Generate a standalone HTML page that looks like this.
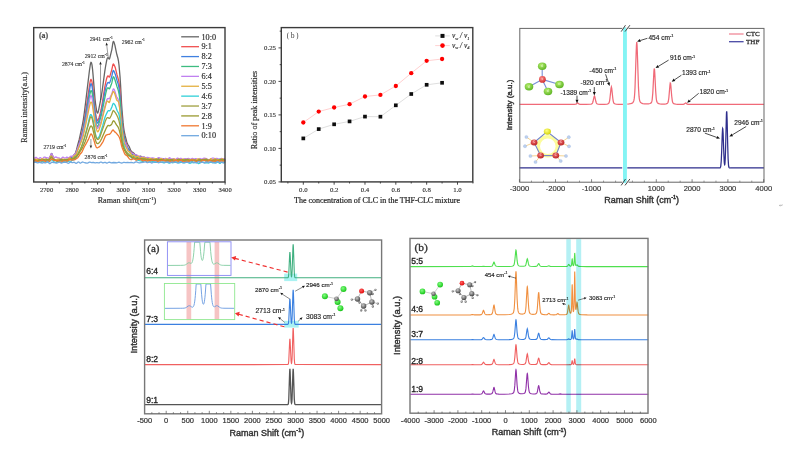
<!DOCTYPE html><html><head><meta charset="utf-8"><title>Raman spectra figure</title><style>html,body{margin:0;padding:0;background:#fff;overflow:hidden;}#wrap{position:relative;width:794px;height:453px;overflow:hidden;background:#fff;}#fig{position:absolute;left:0;top:0;display:block;transform-origin:0 0;}</style></head><body><div id="wrap">
<svg id="fig" width="2382" height="1359" viewBox="0 0 794 453" style="transform:scale(0.333333)">
<filter id="soft" x="0" y="0" width="1" height="1"><feGaussianBlur stdDeviation="0.3"/></filter>
<rect width="794" height="453" fill="#fff"/>
<g filter="url(#soft)">
<rect width="794" height="453" fill="#fff"/>
<path d="M33.85 160.05L34.87 160.82L35.38 161.09L35.89 161.11L37.93 159.96L38.95 159.80L40.48 159.89L42.01 160.29L42.52 160.28L44.05 159.96L45.58 160.19L46.09 160.19L47.11 159.99L47.62 160.01L48.64 160.25L49.15 159.96L49.66 158.98L50.68 155.34L51.19 153.84L51.70 153.44L52.21 154.29L53.23 157.81L53.74 159.22L54.25 159.97L54.76 160.18L55.78 160.04L57.31 160.03L58.84 159.65L59.35 159.73L60.88 160.45L61.39 160.44L62.92 159.92L64.45 160.02L65.98 159.55L66.49 159.50L67.51 159.75L68.02 159.75L68.53 159.54L70.06 158.41L71.59 158.11L72.10 157.70L73.63 155.23L75.16 153.65L75.67 152.66L76.18 151.07L77.71 144.96L79.24 139.47L82.30 125.36L83.32 119.81L84.34 112.58L85.87 100.38L89.44 70.50L90.46 63.73L90.97 62.29L91.48 62.78L91.99 64.87L92.50 68.80L93.01 74.37L95.05 99.40L95.56 103.78L96.58 110.55L97.09 112.62L97.60 113.16L98.11 112.19L98.62 110.17L101.17 97.31L102.19 90.64L104.74 71.62L105.76 65.26L106.78 59.88L107.29 58.29L107.80 57.62L108.31 57.73L108.82 58.62L109.33 59.03L109.84 57.89L111.88 49.29L112.90 42.66L113.41 41.34L113.92 41.92L114.94 45.39L116.47 52.87L116.98 55.03L118.00 58.55L118.51 61.23L119.02 65.23L120.04 76.93L120.55 84.58L121.57 103.71L122.08 110.81L123.10 122.65L123.61 127.26L124.12 130.87L125.14 135.75L126.67 141.49L127.18 143.05L127.69 144.24L129.22 146.62L130.75 150.39L131.26 151.39L131.77 151.96L133.30 152.58L134.83 154.20L136.36 155.20L137.89 156.72L138.40 156.97L138.91 156.87L139.93 156.18L140.44 156.09L140.95 156.35L141.97 157.27L142.48 157.48L144.01 157.11L144.52 157.27L145.54 158.02L146.05 158.23L146.56 158.20L147.58 157.91L148.09 158.01L149.11 158.65L149.62 158.85L150.13 158.83L151.15 158.56L151.66 158.67L152.68 159.32L153.19 159.49L153.70 159.37L154.72 158.69L155.23 158.59L155.74 158.78L156.76 159.40L157.27 159.41L158.29 158.85L158.80 158.73L159.31 158.96L160.33 159.94L160.84 160.15L161.35 159.96L162.37 158.94L162.88 158.65L163.39 158.72L164.92 159.82L165.94 160.03L167.47 159.99L167.98 159.83L169.00 159.28L169.51 159.17L170.02 159.34L171.04 160.24L171.55 160.56L172.06 160.57L173.08 159.97L173.59 159.79L174.10 159.84L175.12 160.16L175.63 160.05L176.65 159.26L177.16 159.05L177.67 159.19L178.69 160.21L179.20 160.54L179.71 160.49L180.73 159.65L181.24 159.35L181.75 159.37L183.28 160.22L183.79 160.28L184.81 160.19L186.34 160.46L186.85 160.40L188.38 159.79L188.89 159.80L189.91 160.00L190.42 159.94L191.95 159.28L192.46 159.33L193.99 160.03L194.50 160.04L195.52 159.87L196.03 159.91L197.05 160.22L197.56 160.25L199.09 159.86L199.60 160.01L200.62 160.76L201.13 160.95L201.64 160.79L203.17 159.32L203.68 159.17L205.21 159.68L205.72 159.68L206.74 159.49L207.25 159.56L208.78 160.26L209.29 160.22L210.82 159.56L211.33 159.60L212.86 160.45L213.88 160.78L214.39 160.78L214.90 160.65L215.41 160.38L216.94 159.17L217.45 159.03L217.96 159.18L218.98 159.94L219.49 160.16L220.00 160.10L221.02 159.48L221.53 159.30L222.04 159.38L223.06 159.98L223.57 160.17L224.08 160.16L225.10 159.86" fill="none" stroke="#666666" stroke-width="1.3" stroke-linejoin="round"/>
<path d="M33.85 160.31L35.38 159.24L35.89 159.15L36.40 159.27L37.93 160.10L38.44 160.28L39.46 160.45L40.48 160.32L42.01 159.77L42.52 159.79L44.05 160.56L44.56 160.63L45.07 160.48L46.09 159.82L46.60 159.59L47.11 159.55L48.13 159.68L48.64 159.52L49.15 158.99L49.66 158.04L50.68 155.64L51.19 154.93L51.70 154.93L52.21 155.62L53.23 157.79L54.25 159.49L54.76 160.07L55.27 160.46L55.78 160.60L56.29 160.47L57.31 159.78L57.82 159.55L58.33 159.53L59.86 160.03L60.37 159.96L61.39 159.59L61.90 159.56L62.41 159.74L63.43 160.31L63.94 160.40L64.45 160.26L65.47 159.68L65.98 159.51L66.49 159.53L67.51 159.75L68.02 159.65L68.53 159.33L70.06 157.84L70.57 157.50L71.08 157.32L72.61 157.25L73.12 157.14L73.63 156.86L74.14 156.41L74.65 155.69L75.16 154.67L76.69 150.63L78.22 146.98L78.73 145.37L80.77 136.94L82.30 131.28L82.81 128.97L83.83 123.19L86.38 106.95L89.44 85.75L89.95 82.65L90.46 80.33L90.97 79.39L91.48 80.04L91.99 81.86L92.50 85.00L93.01 89.35L95.05 109.67L95.56 113.37L96.58 118.76L97.09 120.28L97.60 120.68L98.11 120.04L99.13 117.27L100.15 113.59L101.17 109.27L102.19 103.56L104.74 87.27L105.76 82.19L106.78 78.00L107.29 76.65L107.80 76.00L108.31 76.00L108.82 76.74L109.33 77.17L109.84 76.36L111.88 69.37L112.90 64.65L113.41 63.95L113.92 64.56L114.94 66.79L115.45 68.28L116.98 74.72L118.51 79.91L119.02 82.56L119.53 86.32L120.04 91.22L120.55 97.54L121.57 113.84L122.08 119.77L123.10 129.12L124.12 135.63L124.63 137.96L125.65 141.47L127.18 146.07L128.20 148.57L128.71 149.35L130.24 150.73L131.77 152.93L132.28 153.52L132.79 153.87L133.81 154.23L134.32 154.56L135.85 156.46L136.36 156.87L136.87 156.95L138.40 156.31L138.91 156.36L140.44 157.29L140.95 157.48L142.99 157.59L144.52 157.93L145.03 158.13L146.56 159.10L147.07 159.33L147.58 159.35L148.09 159.15L149.11 158.55L149.62 158.45L150.13 158.58L151.15 159.21L151.66 159.42L152.17 159.43L153.70 158.88L154.72 158.78L156.25 158.88L156.76 159.01L158.29 159.74L158.80 159.85L159.31 159.78L160.33 159.46L160.84 159.49L161.35 159.75L162.37 160.54L162.88 160.71L163.39 160.57L164.92 159.39L165.43 159.30L166.96 159.70L167.47 159.65L168.49 159.34L169.00 159.33L169.51 159.50L170.53 160.10L171.04 160.27L171.55 160.25L173.08 159.81L173.59 159.80L175.12 160.07L176.14 160.12L177.16 160.00L178.69 159.62L179.20 159.65L179.71 159.88L180.73 160.74L181.24 161.05L181.75 161.07L182.26 160.75L183.28 159.70L183.79 159.45L184.30 159.56L185.32 160.44L185.83 160.74L186.34 160.71L187.87 159.44L188.38 159.24L188.89 159.30L189.91 159.74L190.42 159.86L192.46 159.76L195.01 159.95L197.05 160.92L197.56 160.96L199.60 160.18L201.13 160.01L202.66 159.58L203.17 159.57L204.70 159.95L206.74 159.75L208.27 160.30L208.78 160.39L209.29 160.32L210.82 159.82L212.35 159.87L213.88 159.68L214.39 159.80L215.92 160.69L216.43 160.70L216.94 160.42L217.96 159.63L218.47 159.52L218.98 159.72L220.00 160.57L220.51 160.79L221.02 160.70L222.55 159.49L223.06 159.34L223.57 159.42L225.10 160.14" fill="none" stroke="#f05050" stroke-width="1.3" stroke-linejoin="round"/>
<path d="M33.85 160.13L34.36 160.36L34.87 160.44L35.38 160.35L36.91 159.66L37.93 159.52L38.95 159.72L40.99 160.32L42.01 160.27L43.54 159.95L45.58 160.20L47.62 159.58L48.64 159.42L49.15 159.09L49.66 158.34L50.68 155.86L51.19 154.92L51.70 154.78L52.21 155.54L53.23 158.34L53.74 159.47L54.25 160.09L54.76 160.22L56.29 159.57L56.80 159.53L58.33 159.94L58.84 159.96L60.37 159.58L61.39 159.57L63.43 160.15L64.45 160.23L64.96 160.15L67.00 159.42L69.04 159.43L69.55 159.20L70.06 158.77L71.08 157.67L71.59 157.28L72.10 157.11L73.12 157.10L73.63 156.95L74.14 156.58L74.65 155.92L75.16 154.98L77.71 148.85L78.73 145.67L81.28 136.83L82.30 132.92L83.83 125.31L85.87 113.55L88.42 97.85L89.95 87.48L90.46 84.87L90.97 83.69L91.48 84.24L91.99 86.13L92.50 89.37L95.05 112.89L95.56 116.27L96.58 121.27L97.09 122.74L97.60 123.17L98.11 122.64L99.13 120.11L100.15 116.62L101.17 112.54L102.19 107.36L104.74 92.44L106.27 86.21L106.78 84.59L107.29 83.38L107.80 82.64L108.31 82.40L108.82 82.85L109.33 83.11L109.84 82.35L110.86 79.40L111.88 75.87L112.90 71.12L113.41 70.42L113.92 71.06L115.45 74.74L116.98 80.24L118.00 83.44L118.51 85.39L119.02 88.16L119.53 91.98L120.04 96.82L120.55 102.91L121.57 118.12L122.08 123.41L123.10 131.30L123.61 134.32L124.63 139.28L125.65 143.16L126.67 145.92L127.18 146.90L128.20 148.49L131.77 153.70L132.79 154.92L133.30 155.27L133.81 155.42L135.34 155.42L135.85 155.63L137.38 156.92L137.89 157.22L138.40 157.33L139.93 157.12L140.95 157.26L142.99 157.97L145.03 158.92L145.54 158.97L146.05 158.85L147.07 158.39L147.58 158.25L148.09 158.29L149.62 158.99L150.13 159.13L152.17 159.07L153.70 159.32L155.23 159.39L157.27 159.96L157.78 159.96L158.29 159.81L159.31 159.32L160.33 159.07L163.39 159.58L164.92 159.95L165.43 159.99L166.96 159.81L167.47 159.84L169.00 160.40L169.51 160.49L170.02 160.42L171.55 159.74L172.06 159.63L173.59 159.72L175.12 159.67L175.63 159.75L177.16 160.32L177.67 160.37L179.71 159.83L180.22 159.91L181.75 160.47L182.26 160.47L183.79 159.87L184.81 159.67L188.38 160.25L188.89 160.25L190.93 159.89L192.97 160.36L193.48 160.28L195.01 159.53L195.52 159.49L196.03 159.65L197.05 160.25L197.56 160.42L198.07 160.39L199.60 159.82L200.11 159.84L201.64 160.50L202.15 160.57L202.66 160.47L204.19 159.86L204.70 159.77L207.76 159.75L210.31 159.98L212.35 160.47L212.86 160.50L213.37 160.42L214.90 159.93L215.41 159.95L216.94 160.34L217.45 160.25L218.98 159.32L219.49 159.19L220.00 159.30L221.53 160.21L222.04 160.30L223.57 159.96L224.08 159.96L225.10 160.25" fill="none" stroke="#4080e0" stroke-width="1.3" stroke-linejoin="round"/>
<path d="M33.85 160.40L35.38 161.31L35.89 161.36L37.42 160.74L38.95 160.50L40.48 159.80L40.99 159.76L41.50 159.96L42.52 160.62L43.03 160.72L43.54 160.56L44.56 160.02L45.07 159.97L46.60 160.47L47.11 160.35L48.13 159.75L49.66 159.04L51.19 157.31L51.70 157.23L52.21 157.73L53.23 159.52L53.74 160.12L54.25 160.30L55.27 160.01L55.78 160.00L56.29 160.26L57.31 161.06L57.82 161.20L58.33 161.05L59.35 160.36L59.86 160.15L61.39 160.16L62.92 159.64L63.43 159.64L64.96 160.27L65.47 160.36L68.02 160.08L68.53 159.91L70.06 158.97L70.57 158.79L72.10 158.65L72.61 158.47L74.14 157.41L74.65 156.95L75.16 156.25L75.67 155.20L77.71 149.22L79.75 144.33L80.77 141.36L81.79 137.91L82.81 133.45L85.87 117.95L89.95 94.01L90.46 91.75L90.97 90.56L91.48 90.79L91.99 92.23L92.50 95.05L95.05 117.24L95.56 120.48L96.58 125.35L97.09 126.66L97.60 126.80L98.11 125.90L98.62 124.42L101.17 116.06L105.76 93.27L106.78 89.34L107.29 88.28L107.80 87.84L108.31 87.90L108.82 88.51L109.33 88.83L109.84 88.18L111.37 84.32L111.88 82.64L112.90 77.70L113.41 76.73L113.92 77.20L114.94 79.74L116.98 86.53L118.00 89.45L118.51 91.28L119.02 93.77L120.04 101.12L120.55 106.34L121.57 120.15L122.59 129.61L123.61 136.20L124.63 140.91L125.65 144.71L126.16 146.25L126.67 147.44L127.18 148.36L129.73 152.59L130.24 153.22L131.77 154.53L133.30 156.39L133.81 156.74L134.32 156.82L135.34 156.65L135.85 156.69L137.38 157.10L138.40 157.05L138.91 157.16L139.42 157.52L140.44 158.56L140.95 158.83L141.46 158.74L142.48 158.02L142.99 157.85L143.50 157.98L144.52 158.74L145.03 159.01L146.56 159.11L147.07 159.28L148.09 159.83L148.60 159.97L149.11 159.93L150.13 159.66L151.66 159.72L153.19 159.47L153.70 159.48L154.21 159.67L155.23 160.27L155.74 160.42L156.25 160.37L157.78 159.79L160.33 159.68L160.84 159.76L162.37 160.61L162.88 160.76L163.39 160.74L164.92 160.26L166.96 160.14L167.98 160.27L169.51 160.86L170.02 160.84L171.04 160.48L171.55 160.40L173.08 160.80L173.59 160.73L175.12 159.81L175.63 159.83L177.16 160.85L177.67 160.94L179.20 160.45L180.73 160.33L182.26 159.80L182.77 159.89L184.30 160.97L184.81 161.06L186.34 160.51L186.85 160.53L187.87 160.85L188.38 160.86L189.91 160.37L190.42 160.48L191.44 161.09L191.95 161.26L192.46 161.20L193.48 160.73L193.99 160.62L195.52 160.78L196.03 160.61L197.05 159.98L197.56 159.80L198.07 159.83L199.60 160.44L200.11 160.52L202.15 160.36L203.68 159.84L204.19 159.80L204.70 159.97L206.23 160.98L206.74 161.08L208.27 160.84L209.80 160.97L211.84 160.56L213.37 160.68L214.90 160.48L216.43 160.75L216.94 160.70L218.47 159.82L218.98 159.72L219.49 159.85L220.51 160.34L221.02 160.44L222.04 160.37L222.55 160.45L223.57 160.95L224.08 161.10L224.59 160.98L225.10 160.64" fill="none" stroke="#3cbc80" stroke-width="1.3" stroke-linejoin="round"/>
<path d="M33.85 158.20L34.36 158.12L35.89 157.43L36.40 157.49L37.93 158.67L38.44 158.77L38.95 158.53L39.97 157.77L40.48 157.72L42.01 158.72L42.52 158.66L44.05 157.19L44.56 157.04L45.07 157.19L46.09 157.73L47.62 157.79L48.64 158.09L49.15 158.01L49.66 157.43L50.68 154.96L51.19 153.96L51.70 153.78L52.21 154.52L53.23 156.97L53.74 157.65L54.25 157.72L55.27 157.08L55.78 156.98L56.29 157.14L57.31 157.69L58.84 157.91L60.37 158.89L60.88 158.91L61.39 158.55L62.41 157.38L62.92 157.13L63.43 157.29L64.45 158.11L64.96 158.21L65.47 157.97L66.49 157.22L67.00 157.19L68.02 157.77L68.53 157.90L69.04 157.69L70.06 156.65L70.57 156.27L71.08 156.18L72.10 156.38L72.61 156.25L73.12 155.82L74.14 154.65L75.67 153.49L76.18 152.71L76.69 151.53L78.73 145.46L80.77 140.75L81.79 137.66L83.83 129.68L85.87 120.83L89.44 100.90L89.95 98.37L90.46 96.44L90.97 95.63L91.48 96.19L91.99 97.82L92.50 100.60L93.01 104.35L95.05 120.35L95.56 123.09L96.58 127.10L97.09 128.18L97.60 128.35L98.11 127.73L100.15 123.65L101.17 121.13L104.23 108.78L105.76 103.11L106.78 99.87L107.29 98.95L107.80 98.53L108.31 98.45L108.82 98.73L109.33 98.69L109.84 97.87L111.88 93.81L112.90 89.86L113.41 88.85L113.92 89.04L114.43 90.06L114.94 91.45L116.47 96.46L116.98 97.49L118.00 98.99L118.51 100.53L119.02 103.03L120.04 110.23L120.55 114.63L121.57 125.29L122.08 129.25L123.10 136.10L123.61 138.70L124.12 140.55L124.63 141.73L125.65 143.52L126.16 144.84L127.69 149.72L128.20 150.75L128.71 151.28L130.24 152.05L131.26 152.88L131.77 153.17L133.30 153.69L134.83 154.75L135.34 154.90L136.36 154.85L136.87 154.95L137.38 155.27L138.91 156.79L139.42 157.03L139.93 157.08L143.50 156.93L144.01 157.02L145.54 157.65L146.05 157.72L147.58 157.41L148.09 157.46L149.62 158.22L150.13 158.31L152.17 157.83L152.68 157.83L153.70 158.13L155.23 158.93L155.74 159.08L156.25 159.04L156.76 158.80L157.78 158.02L158.29 157.77L158.80 157.73L160.33 158.22L161.86 158.43L163.39 159.13L163.90 159.12L165.43 158.39L165.94 158.47L166.96 159.17L167.47 159.33L167.98 159.12L169.00 158.03L169.51 157.74L170.02 157.86L171.04 158.89L171.55 159.22L172.06 159.19L173.08 158.63L173.59 158.62L175.12 159.62L175.63 159.55L177.16 158.22L177.67 158.16L178.69 158.69L179.20 158.81L180.73 158.27L181.24 158.41L182.26 159.34L182.77 159.66L183.28 159.64L184.81 158.59L185.32 158.57L186.34 158.92L186.85 158.94L188.38 158.45L188.89 158.57L189.91 159.13L190.42 159.20L190.93 159.02L191.95 158.45L192.46 158.43L193.99 159.03L194.50 158.96L195.52 158.53L196.03 158.53L197.56 159.50L198.07 159.53L199.60 158.57L200.11 158.50L201.64 159.12L202.15 159.08L203.68 158.23L204.19 158.15L206.74 158.73L208.78 159.72L209.29 159.79L209.80 159.68L210.31 159.41L211.84 158.39L212.35 158.20L212.86 158.14L213.37 158.21L214.90 158.67L216.94 158.46L217.45 158.66L218.47 159.42L218.98 159.65L219.49 159.59L221.02 158.54L221.53 158.46L223.06 159.01L223.57 158.96L224.59 158.62L225.10 158.59" fill="none" stroke="#c080f0" stroke-width="1.3" stroke-linejoin="round"/>
<path d="M33.85 159.03L34.36 159.11L35.38 159.59L35.89 159.70L36.40 159.61L37.42 159.23L37.93 159.27L39.46 160.25L39.97 160.30L40.48 160.03L41.50 159.02L42.01 158.71L42.52 158.72L44.05 159.72L44.56 159.83L46.09 159.40L46.60 159.42L47.62 159.84L48.13 159.95L48.64 159.77L49.15 159.18L50.68 156.23L51.19 155.82L51.70 156.07L53.23 158.70L53.74 159.24L54.25 159.50L54.76 159.59L56.29 159.58L57.82 159.07L58.33 159.02L58.84 159.15L59.86 159.68L60.37 159.81L60.88 159.74L62.41 159.03L62.92 159.02L64.45 159.42L65.98 159.43L67.00 159.56L67.51 159.48L68.02 159.18L69.04 158.18L69.55 157.86L70.06 157.88L71.08 158.63L71.59 158.88L72.10 158.72L72.61 158.12L73.63 156.41L74.14 155.85L75.16 155.44L75.67 155.13L76.18 154.43L76.69 153.35L78.22 149.26L81.28 141.86L82.30 139.06L83.32 135.57L83.83 133.48L85.87 124.14L88.93 108.83L89.95 104.42L90.46 102.79L90.97 102.02L91.48 102.35L91.99 103.57L92.50 105.83L94.54 119.87L95.05 123.17L95.56 125.60L96.58 129.63L97.09 131.09L97.60 131.75L98.11 131.54L98.62 130.70L99.13 129.55L101.17 123.47L103.72 112.88L106.27 103.16L106.78 101.72L107.29 101.04L107.80 101.12L108.31 101.68L108.82 102.46L109.33 102.56L109.84 101.38L110.86 97.62L111.37 96.08L112.90 91.98L113.41 91.56L113.92 92.04L114.94 94.28L116.47 99.48L116.98 100.51L118.00 101.10L118.51 101.97L119.02 104.06L119.53 107.46L120.04 111.77L121.57 127.68L122.59 134.37L123.61 140.27L124.12 142.74L124.63 144.60L125.14 145.84L126.16 147.54L127.69 150.55L128.20 151.22L128.71 151.50L129.22 151.60L129.73 151.84L130.24 152.50L131.77 155.68L132.28 156.06L132.79 155.89L133.30 155.48L133.81 155.24L134.32 155.40L135.34 156.57L135.85 156.94L136.36 156.89L137.38 156.18L137.89 156.16L138.40 156.61L139.42 158.08L139.93 158.46L140.44 158.40L141.46 157.65L141.97 157.48L142.48 157.60L143.50 158.12L144.01 158.18L145.03 157.93L145.54 157.95L146.05 158.18L147.07 158.90L147.58 159.06L148.09 158.98L149.11 158.52L149.62 158.42L150.13 158.48L151.66 158.92L153.70 159.11L154.72 158.97L155.74 158.63L156.25 158.61L156.76 158.80L157.78 159.51L158.29 159.74L158.80 159.73L159.31 159.48L160.33 158.74L160.84 158.56L161.35 158.61L162.88 159.57L163.39 159.81L163.90 159.89L164.41 159.79L165.94 158.97L166.45 158.82L166.96 158.85L168.49 159.60L169.00 159.76L169.51 159.78L170.53 159.65L172.06 159.60L174.10 158.94L174.61 159.02L176.14 160.00L176.65 160.09L177.16 159.94L178.18 159.34L178.69 159.21L179.20 159.28L180.22 159.70L180.73 159.77L182.77 159.15L183.28 159.20L184.81 159.74L185.32 159.82L186.34 159.75L188.38 159.41L190.93 159.56L192.97 159.27L193.48 159.38L195.01 160.04L195.52 160.10L196.03 160.00L198.07 158.88L198.58 158.82L199.09 158.96L200.62 159.95L201.13 160.13L201.64 160.11L203.17 159.49L204.70 159.35L206.23 159.09L206.74 159.17L208.27 160.20L208.78 160.27L209.29 159.98L210.31 158.92L210.82 158.69L211.33 158.89L212.35 160.02L212.86 160.33L213.37 160.20L214.39 159.11L214.90 158.75L215.41 158.79L216.43 159.62L216.94 159.91L217.45 159.93L218.47 159.56L218.98 159.53L220.00 159.80L220.51 159.75L222.04 158.71L222.55 158.75L224.08 160.22L224.59 160.28L225.10 159.96" fill="none" stroke="#e4b040" stroke-width="1.3" stroke-linejoin="round"/>
<path d="M33.85 162.15L34.36 162.35L34.87 162.40L35.38 162.30L36.91 161.60L37.42 161.50L37.93 161.57L39.46 162.49L39.97 162.69L40.48 162.65L42.01 161.62L42.52 161.45L43.03 161.52L44.05 162.02L44.56 162.16L46.60 161.89L48.13 162.21L48.64 162.12L49.15 161.83L50.68 160.24L51.19 159.86L51.70 159.74L52.21 159.89L52.72 160.28L54.25 162.01L54.76 162.47L55.27 162.68L55.78 162.61L57.31 161.59L57.82 161.43L58.33 161.45L60.88 162.12L61.90 162.18L63.94 161.76L65.47 162.02L65.98 161.92L67.51 161.02L68.02 161.04L69.55 162.06L70.06 162.06L70.57 161.71L71.59 160.62L72.10 160.26L73.63 159.79L74.14 159.46L76.18 157.43L77.20 156.03L79.24 151.36L80.77 148.87L81.79 146.48L84.85 136.62L87.91 124.63L89.44 117.71L89.95 115.85L90.46 114.70L90.97 114.52L91.48 115.19L91.99 116.24L92.50 117.70L93.52 122.13L94.03 124.96L95.05 131.91L95.56 134.53L96.07 136.48L96.58 137.75L97.09 138.39L97.60 138.45L98.11 138.10L98.62 137.50L99.13 136.69L99.64 135.49L102.70 125.70L104.74 117.93L105.76 115.27L107.29 112.10L107.80 111.19L108.31 110.61L108.82 110.67L109.33 110.90L109.84 110.67L110.35 110.11L110.86 109.29L111.88 107.05L112.90 103.84L113.41 103.34L113.92 103.68L114.94 104.99L115.45 105.93L116.98 110.25L117.49 111.33L118.51 113.02L119.02 114.51L119.53 116.93L120.04 120.32L121.57 135.04L122.08 138.28L123.10 142.72L125.14 149.66L126.16 151.91L128.20 155.03L128.71 155.57L129.22 155.91L130.24 156.36L130.75 156.75L132.28 158.51L132.79 158.81L133.30 158.87L134.32 158.80L134.83 158.94L136.36 159.79L137.89 160.11L139.42 160.69L141.46 161.02L142.48 161.40L142.99 161.45L143.50 161.29L144.52 160.66L145.03 160.55L145.54 160.77L147.07 162.31L147.58 162.48L148.09 162.39L149.11 161.97L149.62 161.90L151.15 161.93L152.68 161.58L153.19 161.68L154.72 162.35L155.23 162.42L156.76 162.36L158.29 162.43L160.33 162.00L161.35 162.13L163.90 162.82L164.41 162.79L164.92 162.62L165.94 162.03L166.45 161.87L166.96 161.94L168.49 162.99L169.00 163.12L169.51 163.00L170.53 162.46L171.04 162.32L173.08 162.74L174.61 162.40L175.63 162.36L178.69 162.97L179.20 162.94L180.73 162.33L181.24 162.22L181.75 162.27L183.28 162.90L183.79 162.97L184.30 162.92L186.34 162.32L187.36 162.21L187.87 162.30L189.40 163.14L189.91 163.27L190.42 163.17L191.95 162.31L192.46 162.32L193.48 162.77L193.99 162.87L194.50 162.71L195.52 162.00L196.03 161.84L196.54 162.00L198.07 163.35L198.58 163.51L199.09 163.42L201.13 162.33L202.15 162.03L202.66 162.04L203.17 162.18L204.70 162.88L205.21 162.90L206.74 162.59L208.27 162.98L208.78 162.93L210.31 162.23L210.82 162.22L212.35 162.74L213.88 162.52L214.39 162.56L215.41 162.87L215.92 162.86L217.45 162.06L217.96 162.08L219.49 163.25L220.00 163.35L220.51 163.10L221.53 162.29L222.04 162.13L222.55 162.22L223.57 162.59L224.08 162.61L225.10 162.44" fill="none" stroke="#30d0d8" stroke-width="1.3" stroke-linejoin="round"/>
<path d="M33.85 161.49L35.89 160.86L37.42 160.76L37.93 160.59L39.46 159.80L40.48 159.64L42.01 159.95L44.56 160.69L46.09 160.81L47.62 161.12L48.13 161.12L48.64 160.88L49.15 160.30L50.68 157.44L51.19 156.99L51.70 157.15L53.23 159.30L53.74 159.65L55.27 159.92L56.80 160.85L57.31 161.03L57.82 161.03L59.35 160.61L61.39 160.61L62.92 160.46L65.47 159.95L65.98 159.94L67.51 160.28L68.02 160.27L68.53 160.11L70.06 159.33L70.57 159.25L72.10 159.38L72.61 159.22L74.14 158.12L75.67 157.32L76.18 156.81L76.69 156.08L80.26 149.46L81.79 145.86L84.34 138.54L87.91 126.16L89.44 120.24L89.95 118.47L90.46 117.18L90.97 116.71L91.48 117.13L91.99 118.17L92.50 119.88L93.52 124.97L95.05 133.76L95.56 135.79L96.07 137.33L96.58 138.44L97.09 139.16L97.60 139.43L98.11 139.34L98.62 138.99L99.13 138.44L99.64 137.52L100.15 136.25L101.68 131.67L103.72 126.11L105.25 121.28L106.27 118.89L106.78 118.13L107.29 117.70L107.80 117.58L108.31 117.70L108.82 118.14L109.33 118.42L109.84 118.07L110.35 117.32L111.37 115.19L112.90 110.92L113.41 110.52L113.92 110.96L115.45 112.95L116.47 114.57L118.00 117.78L119.02 120.90L120.04 125.61L120.55 128.85L121.57 137.36L122.08 140.54L123.10 145.30L123.61 146.90L124.12 148.11L125.65 150.68L127.18 152.70L130.75 156.17L134.32 158.45L134.83 158.60L136.36 158.70L137.89 158.95L139.93 158.98L141.46 159.29L141.97 159.31L143.50 159.01L144.01 159.03L145.54 159.56L146.05 159.61L147.58 159.20L148.09 159.23L148.60 159.45L150.13 160.43L150.64 160.51L152.17 160.24L152.68 160.27L154.21 160.65L154.72 160.65L157.27 159.86L158.29 159.75L159.31 159.91L160.84 160.38L161.35 160.40L162.88 160.19L163.39 160.28L164.92 160.89L165.43 160.85L165.94 160.61L166.96 159.93L167.47 159.75L167.98 159.78L169.51 160.35L171.55 160.23L172.06 160.38L173.59 161.13L174.10 161.23L175.12 161.16L176.65 160.89L179.20 160.06L181.75 159.98L182.77 160.06L184.30 160.75L185.32 160.98L188.38 160.84L190.42 160.07L190.93 160.04L192.46 160.33L193.99 160.17L194.50 160.21L195.01 160.40L196.03 161.03L196.54 161.24L197.05 161.26L198.58 160.69L199.09 160.60L200.62 160.74L201.13 160.69L202.66 160.20L203.68 160.05L204.70 160.14L207.25 160.61L207.76 160.57L209.29 160.17L209.80 160.19L211.33 160.76L211.84 160.82L213.37 160.30L213.88 160.25L214.39 160.42L215.41 161.08L215.92 161.31L216.43 161.33L217.96 160.63L218.47 160.50L220.00 160.59L220.51 160.52L222.55 159.83L223.57 159.84L225.10 160.16" fill="none" stroke="#a0a040" stroke-width="1.3" stroke-linejoin="round"/>
<path d="M33.85 160.01L34.87 159.98L36.40 160.54L36.91 160.64L37.42 160.59L38.95 160.14L39.46 160.17L40.99 160.70L41.50 160.76L42.01 160.67L42.52 160.46L44.05 159.51L45.07 159.09L45.58 159.03L46.09 159.10L47.62 159.69L48.13 159.80L48.64 159.77L49.15 159.56L49.66 159.16L50.68 158.13L51.19 157.81L51.70 157.80L52.21 158.10L53.23 159.12L54.25 159.90L55.27 160.29L57.31 160.82L57.82 160.87L58.33 160.79L58.84 160.56L60.37 159.51L60.88 159.39L61.39 159.47L62.92 160.12L63.43 160.13L65.47 159.59L68.02 159.45L70.06 159.61L70.57 159.50L72.10 158.68L72.61 158.52L74.14 158.45L74.65 158.23L75.16 157.80L76.69 155.94L78.22 154.51L78.73 153.84L80.26 151.15L81.79 148.89L82.81 147.08L85.36 141.27L86.38 138.28L88.42 131.41L89.44 128.56L90.46 126.38L90.97 125.89L91.48 126.03L91.99 126.68L92.50 127.94L93.01 129.81L95.05 138.90L95.56 140.55L96.07 141.85L96.58 142.85L97.09 143.50L97.60 143.70L98.11 143.52L99.13 142.66L99.64 142.08L100.66 140.57L101.68 138.55L104.74 131.43L106.27 128.10L107.29 126.24L107.80 125.67L108.31 125.40L109.33 125.77L109.84 125.68L110.86 125.08L111.37 124.58L111.88 123.83L112.90 121.35L113.41 120.78L113.92 120.93L114.94 122.22L116.47 124.89L118.00 126.98L118.51 127.96L119.02 129.36L120.04 133.26L120.55 135.74L121.57 141.81L122.08 143.96L123.10 147.39L124.12 149.75L126.67 153.97L127.18 154.75L127.69 155.30L128.20 155.58L129.73 155.76L130.24 156.07L131.77 157.50L132.28 157.77L133.81 157.91L135.34 158.19L137.38 158.25L138.91 158.77L139.42 158.86L140.95 158.58L141.46 158.57L143.50 159.23L145.03 159.11L145.54 159.16L147.58 160.19L148.09 160.28L148.60 160.22L150.13 159.71L151.15 159.49L152.17 159.50L154.21 159.83L154.72 159.79L156.25 159.36L157.27 159.27L159.82 159.76L162.37 159.62L162.88 159.66L164.41 160.18L165.43 160.34L166.96 160.08L169.00 160.29L169.51 160.20L171.04 159.53L171.55 159.46L172.06 159.55L174.10 160.32L175.63 160.48L176.65 160.31L178.18 159.43L178.69 159.31L179.20 159.42L180.73 160.40L181.24 160.51L181.75 160.41L182.77 159.96L183.28 159.84L184.81 159.91L186.85 159.29L187.36 159.34L189.40 160.21L191.95 160.51L192.46 160.50L193.99 160.08L194.50 160.06L195.01 160.20L196.03 160.71L196.54 160.82L197.05 160.74L198.58 159.80L199.09 159.61L199.60 159.58L201.13 159.83L201.64 159.82L205.21 159.38L206.23 159.48L208.27 160.06L211.84 160.71L212.86 160.60L214.39 160.14L215.41 159.98L217.96 160.37L218.47 160.26L220.00 159.48L220.51 159.35L221.02 159.38L222.55 159.90L223.06 159.94L225.10 159.65" fill="none" stroke="#9a9a30" stroke-width="1.3" stroke-linejoin="round"/>
<path d="M33.85 161.02L34.87 161.03L36.40 160.64L36.91 160.70L38.44 161.71L38.95 161.83L39.46 161.66L40.99 160.55L41.50 160.44L44.05 160.74L45.58 161.44L46.09 161.49L47.62 161.10L49.15 161.35L49.66 161.15L51.19 159.33L51.70 159.08L52.21 159.23L53.23 160.03L53.74 160.28L56.29 160.59L57.82 160.45L58.33 160.54L58.84 160.87L59.86 161.91L60.37 162.25L60.88 162.26L61.39 161.99L62.41 161.20L62.92 160.97L64.96 160.85L67.00 161.18L67.51 161.04L69.04 159.71L69.55 159.50L70.06 159.55L71.08 160.02L71.59 160.12L73.12 159.79L74.65 159.76L75.16 159.58L77.71 157.68L78.22 157.15L80.26 153.98L81.79 152.28L82.30 151.35L84.34 146.75L85.87 144.20L88.42 139.39L90.46 134.44L90.97 133.92L91.48 134.15L91.99 134.92L92.50 136.12L94.03 140.62L95.05 144.16L96.07 146.77L96.58 147.55L97.09 147.89L97.60 147.81L99.64 146.60L100.66 145.43L103.21 141.32L104.74 137.48L105.25 136.37L105.76 135.57L106.27 135.09L106.78 134.81L108.31 134.32L109.33 134.37L109.84 134.06L110.86 132.82L112.39 130.40L112.90 129.93L113.41 130.16L114.43 131.63L115.96 132.84L116.47 133.39L118.51 135.94L119.02 136.73L119.53 137.80L120.04 139.23L120.55 141.11L121.57 145.84L122.08 147.40L124.63 153.70L125.14 154.51L125.65 155.00L126.67 155.51L127.18 155.92L129.22 158.67L129.73 159.08L130.75 159.50L131.26 159.57L131.77 159.51L132.28 159.29L133.30 158.64L133.81 158.52L134.32 158.70L135.85 160.06L136.36 160.16L136.87 159.99L137.89 159.41L138.40 159.28L138.91 159.28L140.44 159.54L140.95 159.72L142.48 160.72L142.99 160.89L143.50 160.83L144.52 160.42L145.03 160.38L146.56 161.00L147.07 161.06L148.60 160.67L150.13 160.78L150.64 160.68L151.66 160.29L152.17 160.21L153.70 160.60L155.23 160.56L155.74 160.66L157.27 161.45L157.78 161.48L159.31 160.86L160.84 160.79L161.35 160.67L162.37 160.22L162.88 160.13L163.39 160.24L164.92 160.96L166.45 161.06L167.98 161.41L168.49 161.35L169.51 161.03L170.02 161.04L171.55 161.84L172.06 161.88L172.57 161.64L174.10 160.41L174.61 160.24L175.63 160.21L176.65 160.39L178.18 161.28L178.69 161.41L179.20 161.25L180.22 160.41L180.73 160.12L181.24 160.14L181.75 160.48L182.77 161.45L183.28 161.76L184.30 161.91L185.83 161.73L187.36 161.02L187.87 160.94L189.40 161.33L189.91 161.22L191.44 159.99L191.95 159.83L192.46 159.96L193.99 160.78L196.54 161.21L198.07 161.13L198.58 161.21L200.11 162.06L200.62 162.06L201.13 161.75L202.15 160.70L202.66 160.34L203.17 160.26L205.21 160.96L206.74 161.37L207.25 161.41L207.76 161.28L209.29 160.36L209.80 160.35L211.33 161.24L211.84 161.35L213.37 161.06L214.90 161.09L216.43 160.63L216.94 160.64L218.47 161.27L218.98 161.30L220.51 160.95L222.04 161.10L223.57 160.77L224.08 160.84L225.10 161.45" fill="none" stroke="#f07830" stroke-width="1.3" stroke-linejoin="round"/>
<path d="M33.85 162.36L35.38 162.27L35.89 162.32L37.42 162.91L37.93 162.92L39.46 162.15L39.97 162.10L40.48 162.31L41.50 162.98L42.01 163.09L43.54 162.57L44.05 162.60L45.07 162.95L45.58 162.91L46.09 162.59L47.11 161.67L47.62 161.58L48.13 161.93L49.15 163.26L49.66 163.64L50.17 163.57L51.70 162.17L52.21 162.05L53.74 162.59L55.27 162.57L56.80 163.01L57.31 162.97L58.84 162.09L59.35 162.03L59.86 162.24L60.88 162.92L61.39 163.07L61.90 163.00L63.43 162.46L65.98 162.29L66.49 162.40L68.02 163.29L68.53 163.30L69.04 163.01L70.06 162.16L70.57 161.99L71.08 162.10L72.10 162.64L72.61 162.70L73.63 162.34L74.14 162.26L74.65 162.42L75.67 163.19L76.18 163.36L76.69 163.21L77.71 162.29L78.22 162.01L78.73 162.07L79.75 162.83L80.26 163.08L80.77 163.04L82.30 162.07L82.81 162.00L84.85 162.75L86.89 163.09L87.40 163.08L87.91 162.93L89.44 162.17L89.95 162.15L91.48 162.54L93.01 162.42L93.52 162.48L95.05 162.94L95.56 162.90L96.58 162.59L97.09 162.54L98.62 162.90L99.13 162.84L100.66 162.03L101.17 162.03L102.70 162.89L103.21 162.96L104.74 162.39L105.25 162.40L106.78 163.06L107.29 163.03L108.82 162.24L109.33 162.16L111.37 162.78L113.41 162.51L116.47 162.77L117.49 162.63L119.02 162.24L119.53 162.29L121.06 162.98L121.57 163.07L122.08 162.99L123.61 162.32L124.12 162.29L125.65 162.61L127.69 162.48L129.22 162.71L131.26 162.46L133.30 162.93L133.81 162.88L134.32 162.68L135.34 162.11L135.85 161.92L136.36 161.88L136.87 162.00L138.40 162.70L139.42 162.83L140.95 162.54L142.99 162.44L145.03 161.90L145.54 161.97L147.07 162.60L147.58 162.61L149.11 162.02L149.62 161.99L150.13 162.17L151.15 162.80L151.66 162.98L152.17 162.94L152.68 162.71L153.70 162.03L154.21 161.79L154.72 161.68L155.74 161.83L157.27 162.46L158.29 162.74L158.80 162.73L160.33 162.31L161.35 162.17L163.39 162.21L165.43 162.48L165.94 162.41L167.47 161.88L167.98 161.91L169.51 162.76L170.02 162.86L170.53 162.73L171.55 162.15L172.06 162.00L172.57 162.04L173.59 162.35L174.10 162.35L175.63 161.95L176.14 162.08L177.16 162.75L177.67 162.97L178.18 162.90L179.71 161.76L180.22 161.61L180.73 161.72L182.26 162.53L182.77 162.64L184.30 162.53L186.34 162.03L186.85 162.03L188.38 162.58L188.89 162.63L189.40 162.49L190.42 161.95L190.93 161.85L191.44 161.94L192.46 162.38L192.97 162.47L194.50 162.21L195.01 162.35L196.03 162.91L196.54 162.99L197.05 162.76L198.07 161.83L198.58 161.54L199.09 161.56L200.62 162.45L201.13 162.45L202.15 162.15L202.66 162.17L204.19 162.91L204.70 162.87L206.23 161.87L206.74 161.84L208.27 162.62L208.78 162.62L210.31 161.85L210.82 161.80L214.39 162.78L214.90 162.88L215.41 162.85L215.92 162.61L216.94 161.87L217.45 161.68L217.96 161.76L218.98 162.34L219.49 162.49L220.00 162.41L221.02 162.00L221.53 162.03L223.06 162.93L223.57 162.89L225.10 161.72" fill="none" stroke="#70a8e0" stroke-width="1.3" stroke-linejoin="round"/>
<rect x="33.7" y="27.6" width="191.3" height="154.4" fill="none" stroke="#3a3a3a" stroke-width="1.4"/>
<line x1="46.60" y1="182.0" x2="46.60" y2="184.6" stroke="#333" stroke-width="0.9"/>
<text x="46.60" y="192.3" font-size="6.6" font-family="'Liberation Serif','Noto Serif CJK SC',serif" text-anchor="middle" fill="#333" stroke="#333" stroke-width="0.15" >2700</text>
<line x1="59.35" y1="182.0" x2="59.35" y2="183.5" stroke="#333" stroke-width="0.9"/>
<line x1="72.10" y1="182.0" x2="72.10" y2="184.6" stroke="#333" stroke-width="0.9"/>
<text x="72.10" y="192.3" font-size="6.6" font-family="'Liberation Serif','Noto Serif CJK SC',serif" text-anchor="middle" fill="#333" stroke="#333" stroke-width="0.15" >2800</text>
<line x1="84.85" y1="182.0" x2="84.85" y2="183.5" stroke="#333" stroke-width="0.9"/>
<line x1="97.60" y1="182.0" x2="97.60" y2="184.6" stroke="#333" stroke-width="0.9"/>
<text x="97.60" y="192.3" font-size="6.6" font-family="'Liberation Serif','Noto Serif CJK SC',serif" text-anchor="middle" fill="#333" stroke="#333" stroke-width="0.15" >2900</text>
<line x1="110.35" y1="182.0" x2="110.35" y2="183.5" stroke="#333" stroke-width="0.9"/>
<line x1="123.10" y1="182.0" x2="123.10" y2="184.6" stroke="#333" stroke-width="0.9"/>
<text x="123.10" y="192.3" font-size="6.6" font-family="'Liberation Serif','Noto Serif CJK SC',serif" text-anchor="middle" fill="#333" stroke="#333" stroke-width="0.15" >3000</text>
<line x1="135.85" y1="182.0" x2="135.85" y2="183.5" stroke="#333" stroke-width="0.9"/>
<line x1="148.60" y1="182.0" x2="148.60" y2="184.6" stroke="#333" stroke-width="0.9"/>
<text x="148.60" y="192.3" font-size="6.6" font-family="'Liberation Serif','Noto Serif CJK SC',serif" text-anchor="middle" fill="#333" stroke="#333" stroke-width="0.15" >3100</text>
<line x1="161.35" y1="182.0" x2="161.35" y2="183.5" stroke="#333" stroke-width="0.9"/>
<line x1="174.10" y1="182.0" x2="174.10" y2="184.6" stroke="#333" stroke-width="0.9"/>
<text x="174.10" y="192.3" font-size="6.6" font-family="'Liberation Serif','Noto Serif CJK SC',serif" text-anchor="middle" fill="#333" stroke="#333" stroke-width="0.15" >3200</text>
<line x1="186.85" y1="182.0" x2="186.85" y2="183.5" stroke="#333" stroke-width="0.9"/>
<line x1="199.60" y1="182.0" x2="199.60" y2="184.6" stroke="#333" stroke-width="0.9"/>
<text x="199.60" y="192.3" font-size="6.6" font-family="'Liberation Serif','Noto Serif CJK SC',serif" text-anchor="middle" fill="#333" stroke="#333" stroke-width="0.15" >3300</text>
<line x1="212.35" y1="182.0" x2="212.35" y2="183.5" stroke="#333" stroke-width="0.9"/>
<line x1="225.10" y1="182.0" x2="225.10" y2="184.6" stroke="#333" stroke-width="0.9"/>
<text x="225.10" y="192.3" font-size="6.6" font-family="'Liberation Serif','Noto Serif CJK SC',serif" text-anchor="middle" fill="#333" stroke="#333" stroke-width="0.15" >3400</text>
<text x="127" y="203.1" font-size="8.1" font-family="'Liberation Serif','Noto Serif CJK SC',serif" text-anchor="middle" fill="#333" stroke="#333" stroke-width="0.2">Raman shift(cm<tspan font-size="4.8" dy="-2.8">-1</tspan><tspan dy="2.8">)</tspan></text>
<text transform="translate(27.3,107.3) rotate(-90)" x="0" y="0" font-size="8.2" font-family="'Liberation Serif','Noto Serif CJK SC',serif" text-anchor="middle" fill="#333" stroke="#333" stroke-width="0.2">Raman intensity(a.u.)</text>
<text x="39" y="38.4" font-size="7.9" font-family="'Liberation Serif','Noto Serif CJK SC',serif" text-anchor="start" fill="#4a4a4a" stroke="#4a4a4a" stroke-width="0.15" font-weight="bold">(a)</text>
<line x1="181.2" y1="36.80" x2="199" y2="36.80" stroke="#666666" stroke-width="1.3"/>
<text x="201.5" y="39.60" font-size="8.2" font-family="'Liberation Serif','Noto Serif CJK SC',serif" text-anchor="start" fill="#333" stroke="#333" stroke-width="0.2" >10:0</text>
<line x1="181.2" y1="46.69" x2="199" y2="46.69" stroke="#f05050" stroke-width="1.3"/>
<text x="201.5" y="49.49" font-size="8.2" font-family="'Liberation Serif','Noto Serif CJK SC',serif" text-anchor="start" fill="#333" stroke="#333" stroke-width="0.2" >9:1</text>
<line x1="181.2" y1="56.58" x2="199" y2="56.58" stroke="#4080e0" stroke-width="1.3"/>
<text x="201.5" y="59.38" font-size="8.2" font-family="'Liberation Serif','Noto Serif CJK SC',serif" text-anchor="start" fill="#333" stroke="#333" stroke-width="0.2" >8:2</text>
<line x1="181.2" y1="66.47" x2="199" y2="66.47" stroke="#3cbc80" stroke-width="1.3"/>
<text x="201.5" y="69.27" font-size="8.2" font-family="'Liberation Serif','Noto Serif CJK SC',serif" text-anchor="start" fill="#333" stroke="#333" stroke-width="0.2" >7:3</text>
<line x1="181.2" y1="76.36" x2="199" y2="76.36" stroke="#c080f0" stroke-width="1.3"/>
<text x="201.5" y="79.16" font-size="8.2" font-family="'Liberation Serif','Noto Serif CJK SC',serif" text-anchor="start" fill="#333" stroke="#333" stroke-width="0.2" >6:4</text>
<line x1="181.2" y1="86.25" x2="199" y2="86.25" stroke="#e4b040" stroke-width="1.3"/>
<text x="201.5" y="89.05" font-size="8.2" font-family="'Liberation Serif','Noto Serif CJK SC',serif" text-anchor="start" fill="#333" stroke="#333" stroke-width="0.2" >5:5</text>
<line x1="181.2" y1="96.14" x2="199" y2="96.14" stroke="#30d0d8" stroke-width="1.3"/>
<text x="201.5" y="98.94" font-size="8.2" font-family="'Liberation Serif','Noto Serif CJK SC',serif" text-anchor="start" fill="#333" stroke="#333" stroke-width="0.2" >4:6</text>
<line x1="181.2" y1="106.03" x2="199" y2="106.03" stroke="#a0a040" stroke-width="1.3"/>
<text x="201.5" y="108.83" font-size="8.2" font-family="'Liberation Serif','Noto Serif CJK SC',serif" text-anchor="start" fill="#333" stroke="#333" stroke-width="0.2" >3:7</text>
<line x1="181.2" y1="115.92" x2="199" y2="115.92" stroke="#9a9a30" stroke-width="1.3"/>
<text x="201.5" y="118.72" font-size="8.2" font-family="'Liberation Serif','Noto Serif CJK SC',serif" text-anchor="start" fill="#333" stroke="#333" stroke-width="0.2" >2:8</text>
<line x1="181.2" y1="125.81" x2="199" y2="125.81" stroke="#f07830" stroke-width="1.3"/>
<text x="201.5" y="128.61" font-size="8.2" font-family="'Liberation Serif','Noto Serif CJK SC',serif" text-anchor="start" fill="#333" stroke="#333" stroke-width="0.2" >1:9</text>
<line x1="181.2" y1="135.70" x2="199" y2="135.70" stroke="#70a8e0" stroke-width="1.3"/>
<text x="201.5" y="138.50" font-size="8.2" font-family="'Liberation Serif','Noto Serif CJK SC',serif" text-anchor="start" fill="#333" stroke="#333" stroke-width="0.2" >0:10</text>
<text x="89.7" y="41.2" font-size="5.8" font-family="'Liberation Serif','Noto Serif CJK SC',serif" text-anchor="start" fill="#333" stroke="#333" stroke-width="0.12" >2941 cm<tspan font-size="3.48" dy="-2.20">-1</tspan></text>
<text x="121.8" y="43.6" font-size="5.8" font-family="'Liberation Serif','Noto Serif CJK SC',serif" text-anchor="start" fill="#333" stroke="#333" stroke-width="0.12" >2962 cm<tspan font-size="3.48" dy="-2.20">-1</tspan></text>
<text x="84.7" y="58.3" font-size="5.8" font-family="'Liberation Serif','Noto Serif CJK SC',serif" text-anchor="start" fill="#333" stroke="#333" stroke-width="0.12" >2912 cm<tspan font-size="3.48" dy="-2.20">-1</tspan></text>
<text x="61.9" y="66.4" font-size="5.8" font-family="'Liberation Serif','Noto Serif CJK SC',serif" text-anchor="start" fill="#333" stroke="#333" stroke-width="0.12" >2874 cm<tspan font-size="3.48" dy="-2.20">-1</tspan></text>
<text x="43.4" y="149.0" font-size="5.8" font-family="'Liberation Serif','Noto Serif CJK SC',serif" text-anchor="start" fill="#333" stroke="#333" stroke-width="0.12" >2719 cm<tspan font-size="3.48" dy="-2.20">-1</tspan></text>
<text x="84.6" y="159.3" font-size="5.8" font-family="'Liberation Serif','Noto Serif CJK SC',serif" text-anchor="start" fill="#333" stroke="#333" stroke-width="0.12" >2876 cm<tspan font-size="3.48" dy="-2.20">-1</tspan></text>
<line x1="108.20" y1="57.00" x2="106.77" y2="45.48" stroke="#222" stroke-width="0.45"/>
<polygon points="106.40,42.50 107.96,45.33 105.58,45.62" fill="#222"/>
<line x1="100.60" y1="100.00" x2="100.51" y2="64.50" stroke="#222" stroke-width="0.45"/>
<polygon points="100.50,61.50 101.71,64.50 99.31,64.50" fill="#222"/>
<line x1="90.90" y1="139.00" x2="90.90" y2="145.50" stroke="#222" stroke-width="0.45"/>
<polygon points="90.90,148.50 89.70,145.50 92.10,145.50" fill="#222"/>
<path d="M303.30 138.40L318.72 129.10L334.14 124.30L349.56 121.40L364.98 116.60L380.40 116.70L411.24 94.00L426.66 84.80L442.08 82.80" fill="none" stroke="#c8c8c8" stroke-width="0.6"/>
<path d="M303.30 122.50L318.72 111.60L334.14 107.50L349.56 104.20L364.98 96.50L380.40 94.90L395.82 86.00L411.24 73.20L426.66 60.80L442.08 59.00" fill="none" stroke="#ffb0b0" stroke-width="0.6"/>
<rect x="301.45" y="136.55" width="3.7" height="3.7" fill="#111"/>
<rect x="316.87" y="127.25" width="3.7" height="3.7" fill="#111"/>
<rect x="332.29" y="122.45" width="3.7" height="3.7" fill="#111"/>
<rect x="347.71" y="119.55" width="3.7" height="3.7" fill="#111"/>
<rect x="363.13" y="114.75" width="3.7" height="3.7" fill="#111"/>
<rect x="378.55" y="114.85" width="3.7" height="3.7" fill="#111"/>
<rect x="393.97" y="103.45" width="3.7" height="3.7" fill="#111"/>
<rect x="409.39" y="92.15" width="3.7" height="3.7" fill="#111"/>
<rect x="424.81" y="82.95" width="3.7" height="3.7" fill="#111"/>
<rect x="440.23" y="80.95" width="3.7" height="3.7" fill="#111"/>
<circle cx="303.30" cy="122.50" r="2.15" fill="#f00"/>
<circle cx="318.72" cy="111.60" r="2.15" fill="#f00"/>
<circle cx="334.14" cy="107.50" r="2.15" fill="#f00"/>
<circle cx="349.56" cy="104.20" r="2.15" fill="#f00"/>
<circle cx="364.98" cy="96.50" r="2.15" fill="#f00"/>
<circle cx="380.40" cy="94.90" r="2.15" fill="#f00"/>
<circle cx="395.82" cy="86.00" r="2.15" fill="#f00"/>
<circle cx="411.24" cy="73.20" r="2.15" fill="#f00"/>
<circle cx="426.66" cy="60.80" r="2.15" fill="#f00"/>
<circle cx="442.08" cy="59.00" r="2.15" fill="#f00"/>
<rect x="281.3" y="27.6" width="191.5" height="154.3" fill="none" stroke="#3a3a3a" stroke-width="1.4"/>
<line x1="278.50" y1="181.90" x2="281.3" y2="181.90" stroke="#333" stroke-width="0.9"/>
<text x="276.0" y="184.20" font-size="6.8" font-family="'Liberation Serif','Noto Serif CJK SC',serif" text-anchor="end" fill="#333" stroke="#333" stroke-width="0.15" >0.05</text>
<line x1="279.70" y1="165.15" x2="281.3" y2="165.15" stroke="#333" stroke-width="0.9"/>
<line x1="278.50" y1="148.40" x2="281.3" y2="148.40" stroke="#333" stroke-width="0.9"/>
<text x="276.0" y="150.70" font-size="6.8" font-family="'Liberation Serif','Noto Serif CJK SC',serif" text-anchor="end" fill="#333" stroke="#333" stroke-width="0.15" >0.10</text>
<line x1="279.70" y1="131.65" x2="281.3" y2="131.65" stroke="#333" stroke-width="0.9"/>
<line x1="278.50" y1="114.90" x2="281.3" y2="114.90" stroke="#333" stroke-width="0.9"/>
<text x="276.0" y="117.20" font-size="6.8" font-family="'Liberation Serif','Noto Serif CJK SC',serif" text-anchor="end" fill="#333" stroke="#333" stroke-width="0.15" >0.15</text>
<line x1="279.70" y1="98.15" x2="281.3" y2="98.15" stroke="#333" stroke-width="0.9"/>
<line x1="278.50" y1="81.40" x2="281.3" y2="81.40" stroke="#333" stroke-width="0.9"/>
<text x="276.0" y="83.70" font-size="6.8" font-family="'Liberation Serif','Noto Serif CJK SC',serif" text-anchor="end" fill="#333" stroke="#333" stroke-width="0.15" >0.20</text>
<line x1="279.70" y1="64.65" x2="281.3" y2="64.65" stroke="#333" stroke-width="0.9"/>
<line x1="278.50" y1="47.90" x2="281.3" y2="47.90" stroke="#333" stroke-width="0.9"/>
<text x="276.0" y="50.20" font-size="6.8" font-family="'Liberation Serif','Noto Serif CJK SC',serif" text-anchor="end" fill="#333" stroke="#333" stroke-width="0.15" >0.25</text>
<line x1="279.70" y1="31.15" x2="281.3" y2="31.15" stroke="#333" stroke-width="0.9"/>
<line x1="287.88" y1="181.9" x2="287.88" y2="183.50" stroke="#333" stroke-width="0.9"/>
<line x1="303.30" y1="181.9" x2="303.30" y2="184.70" stroke="#333" stroke-width="0.9"/>
<text x="303.30" y="191.6" font-size="6.8" font-family="'Liberation Serif','Noto Serif CJK SC',serif" text-anchor="middle" fill="#333" stroke="#333" stroke-width="0.15" >0.0</text>
<line x1="318.72" y1="181.9" x2="318.72" y2="183.50" stroke="#333" stroke-width="0.9"/>
<line x1="334.14" y1="181.9" x2="334.14" y2="184.70" stroke="#333" stroke-width="0.9"/>
<text x="334.14" y="191.6" font-size="6.8" font-family="'Liberation Serif','Noto Serif CJK SC',serif" text-anchor="middle" fill="#333" stroke="#333" stroke-width="0.15" >0.2</text>
<line x1="349.56" y1="181.9" x2="349.56" y2="183.50" stroke="#333" stroke-width="0.9"/>
<line x1="364.98" y1="181.9" x2="364.98" y2="184.70" stroke="#333" stroke-width="0.9"/>
<text x="364.98" y="191.6" font-size="6.8" font-family="'Liberation Serif','Noto Serif CJK SC',serif" text-anchor="middle" fill="#333" stroke="#333" stroke-width="0.15" >0.4</text>
<line x1="380.40" y1="181.9" x2="380.40" y2="183.50" stroke="#333" stroke-width="0.9"/>
<line x1="395.82" y1="181.9" x2="395.82" y2="184.70" stroke="#333" stroke-width="0.9"/>
<text x="395.82" y="191.6" font-size="6.8" font-family="'Liberation Serif','Noto Serif CJK SC',serif" text-anchor="middle" fill="#333" stroke="#333" stroke-width="0.15" >0.6</text>
<line x1="411.24" y1="181.9" x2="411.24" y2="183.50" stroke="#333" stroke-width="0.9"/>
<line x1="426.66" y1="181.9" x2="426.66" y2="184.70" stroke="#333" stroke-width="0.9"/>
<text x="426.66" y="191.6" font-size="6.8" font-family="'Liberation Serif','Noto Serif CJK SC',serif" text-anchor="middle" fill="#333" stroke="#333" stroke-width="0.15" >0.8</text>
<line x1="442.08" y1="181.9" x2="442.08" y2="183.50" stroke="#333" stroke-width="0.9"/>
<line x1="457.50" y1="181.9" x2="457.50" y2="184.70" stroke="#333" stroke-width="0.9"/>
<text x="457.50" y="191.6" font-size="6.8" font-family="'Liberation Serif','Noto Serif CJK SC',serif" text-anchor="middle" fill="#333" stroke="#333" stroke-width="0.15" >1.0</text>
<line x1="472.92" y1="181.9" x2="472.92" y2="183.50" stroke="#333" stroke-width="0.9"/>
<text x="377" y="203.2" font-size="8.0" font-family="'Liberation Serif','Noto Serif CJK SC',serif" text-anchor="middle" fill="#222" stroke="#222" stroke-width="0.2" >The concentration of CLC in the THF-CLC mixture</text>
<text transform="translate(256.6,110) rotate(-90)" font-size="8.1" font-family="'Liberation Serif','Noto Serif CJK SC',serif" text-anchor="middle" fill="#333" stroke="#333" stroke-width="0.2">Ratio of peak intensities</text>
<text x="286.7" y="38.2" font-size="7.6" font-family="'Liberation Serif','Noto Serif CJK SC',serif" fill="#444" letter-spacing="1.5">(b)</text>
<line x1="435.2" y1="35.9" x2="449.8" y2="35.9" stroke="#c8c8c8" stroke-width="0.6"/>
<rect x="440.5" y="33.9" width="4" height="4" fill="#111"/>
<line x1="435.2" y1="45.6" x2="449.8" y2="45.6" stroke="#ffb0b0" stroke-width="0.6"/>
<circle cx="442.5" cy="45.6" r="2.3" fill="#f00"/>
<text x="452" y="38.3" font-size="7.4" font-family="'Liberation Serif','Noto Serif CJK SC',serif" font-style="italic" fill="#333" stroke="#333" stroke-width="0.15">ν<tspan font-size="4.5" dy="1.5">w</tspan><tspan dy="-1.5"> / ν</tspan><tspan font-size="4.5" dy="1.5">1</tspan></text>
<text x="452" y="48.0" font-size="7.4" font-family="'Liberation Serif','Noto Serif CJK SC',serif" font-style="italic" fill="#333" stroke="#333" stroke-width="0.15">ν<tspan font-size="4.5" dy="1.5">w</tspan><tspan dy="-1.5"> / ν</tspan><tspan font-size="4.5" dy="1.5">4</tspan></text>
<path d="M519.45 104.50L574.25 104.44L575.69 104.26L576.05 104.10L577.13 103.15L577.49 102.98L577.85 103.10L578.93 104.05L579.29 104.23L580.01 104.39L586.14 104.43L590.47 104.25L591.19 104.14L591.91 103.81L592.27 103.41L592.63 102.69L592.99 101.56L594.07 96.62L594.43 95.97L594.79 96.62L595.88 101.55L596.24 102.68L596.60 103.39L596.96 103.79L597.32 104.00L598.04 104.18L600.20 104.33L604.53 104.30L607.05 104.08L607.77 103.92L608.49 103.54L608.85 103.10L609.21 102.28L609.58 100.81L609.94 98.48L611.02 88.33L611.38 86.99L611.74 88.33L612.82 98.49L613.18 100.82L613.54 102.28L613.90 103.11L614.26 103.55L614.62 103.79L616.06 104.16L618.59 104.35L622.91 104.44" fill="none" stroke="#f06a78" stroke-width="1.25"/>
<path d="M627.30 104.13L629.02 103.95L630.45 103.70L631.60 103.34L632.46 102.87L633.03 102.34L633.60 101.33L633.89 100.39L634.18 98.88L634.46 96.47L634.75 92.78L635.03 87.43L636.18 51.92L636.47 44.69L636.75 41.94L637.04 44.68L637.33 51.91L638.47 87.41L639.04 96.44L639.33 98.85L639.62 100.35L639.90 101.29L640.48 102.29L641.05 102.81L641.62 103.13L642.77 103.53L644.49 103.81L646.49 103.90L648.50 103.80L649.93 103.52L650.79 103.12L651.36 102.52L651.65 101.93L651.93 100.94L652.22 99.32L652.79 93.12L653.94 71.12L654.22 68.48L654.51 69.40L654.80 73.49L655.66 90.84L656.23 98.22L656.51 100.26L656.80 101.53L657.09 102.30L657.66 103.06L658.23 103.42L658.81 103.63L659.95 103.88L661.38 104.02L664.82 104.02L665.97 103.89L666.83 103.67L667.40 103.33L667.68 103.00L667.97 102.45L668.26 101.54L668.83 98.00L669.98 84.88L670.26 83.06L670.55 83.34L670.83 85.59L671.69 95.97L672.27 100.56L672.55 101.85L672.84 102.66L673.13 103.15L673.70 103.63L674.56 103.93L675.99 104.15L677.71 104.27L683.15 104.32L684.01 104.13L685.44 102.98L685.73 102.94L686.01 103.08L686.87 103.88L687.45 104.21L688.02 104.34L689.45 104.42L764.00 104.50" fill="none" stroke="#f06a78" stroke-width="1.25"/>
<path d="M519.45 168.00L622.19 168.00" fill="none" stroke="#2e2e8c" stroke-width="1.25"/>
<path d="M627.30 168.00L718.81 168.00L719.67 167.98L720.10 167.84L720.38 167.50L720.53 167.15L720.81 165.83L721.24 161.04L721.67 151.43L722.24 134.83L722.53 129.51L722.67 128.54L722.82 128.87L723.10 133.14L723.82 153.32L724.25 161.85L724.39 163.42L724.53 164.35L724.68 164.64L724.82 164.27L724.96 163.19L725.25 158.54L725.54 150.18L726.40 115.27L726.54 112.32L726.68 111.30L726.83 112.32L727.11 119.84L727.69 144.69L728.11 158.76L728.54 165.36L728.83 167.04L729.12 167.70L729.40 167.92L730.12 168.00L764.00 168.00" fill="none" stroke="#2e2e8c" stroke-width="1.25"/>
<rect x="623.0" y="28.6" width="3.9" height="153.4" fill="#84f4f4"/>
<rect x="519.8" y="28.4" width="244.20000000000005" height="153.79999999999998" fill="none" stroke="#666" stroke-width="1.0"/>
<rect x="623.6" y="27.5" width="2.6" height="1.8" fill="#84f4f4"/>
<rect x="622.2" y="27.5" width="1.4" height="1.8" fill="#fff"/>
<rect x="626.2" y="27.5" width="2.4" height="1.8" fill="#fff"/>
<line x1="621.2" y1="31.599999999999998" x2="625.5" y2="25.2" stroke="#333" stroke-width="0.9"/>
<line x1="625.0" y1="31.599999999999998" x2="629.9" y2="25.2" stroke="#333" stroke-width="0.9"/>
<rect x="623.6" y="181.29999999999998" width="2.6" height="1.8" fill="#84f4f4"/>
<rect x="622.2" y="181.29999999999998" width="1.4" height="1.8" fill="#fff"/>
<rect x="626.2" y="181.29999999999998" width="2.4" height="1.8" fill="#fff"/>
<line x1="621.2" y1="185.39999999999998" x2="625.5" y2="179.0" stroke="#333" stroke-width="0.9"/>
<line x1="625.0" y1="185.39999999999998" x2="629.9" y2="179.0" stroke="#333" stroke-width="0.9"/>
<line x1="519.45" y1="182.2" x2="519.45" y2="179.2" stroke="#555" stroke-width="0.7"/>
<line x1="531.47" y1="182.2" x2="531.47" y2="180.6" stroke="#555" stroke-width="0.6"/>
<line x1="543.48" y1="182.2" x2="543.48" y2="180.6" stroke="#555" stroke-width="0.6"/>
<text x="519.45" y="190.7" font-size="7.6" font-family="'Liberation Sans',sans-serif" text-anchor="middle" fill="#333" stroke="#333" stroke-width="0.15" >-3000</text>
<line x1="555.50" y1="182.2" x2="555.50" y2="179.2" stroke="#555" stroke-width="0.7"/>
<line x1="567.52" y1="182.2" x2="567.52" y2="180.6" stroke="#555" stroke-width="0.6"/>
<line x1="579.53" y1="182.2" x2="579.53" y2="180.6" stroke="#555" stroke-width="0.6"/>
<text x="555.50" y="190.7" font-size="7.6" font-family="'Liberation Sans',sans-serif" text-anchor="middle" fill="#333" stroke="#333" stroke-width="0.15" >-2000</text>
<line x1="591.55" y1="182.2" x2="591.55" y2="179.2" stroke="#555" stroke-width="0.7"/>
<line x1="603.57" y1="182.2" x2="603.57" y2="180.6" stroke="#555" stroke-width="0.6"/>
<line x1="615.58" y1="182.2" x2="615.58" y2="180.6" stroke="#555" stroke-width="0.6"/>
<text x="591.55" y="190.7" font-size="7.6" font-family="'Liberation Sans',sans-serif" text-anchor="middle" fill="#333" stroke="#333" stroke-width="0.15" >-1000</text>
<line x1="656.30" y1="182.2" x2="656.30" y2="179.2" stroke="#555" stroke-width="0.7"/>
<text x="656.30" y="190.7" font-size="7.6" font-family="'Liberation Sans',sans-serif" text-anchor="middle" fill="#333" stroke="#333" stroke-width="0.15" >1000</text>
<line x1="692.10" y1="182.2" x2="692.10" y2="179.2" stroke="#555" stroke-width="0.7"/>
<text x="692.10" y="190.7" font-size="7.6" font-family="'Liberation Sans',sans-serif" text-anchor="middle" fill="#333" stroke="#333" stroke-width="0.15" >2000</text>
<line x1="727.90" y1="182.2" x2="727.90" y2="179.2" stroke="#555" stroke-width="0.7"/>
<text x="727.90" y="190.7" font-size="7.6" font-family="'Liberation Sans',sans-serif" text-anchor="middle" fill="#333" stroke="#333" stroke-width="0.15" >3000</text>
<line x1="763.70" y1="182.2" x2="763.70" y2="179.2" stroke="#555" stroke-width="0.7"/>
<text x="763.70" y="190.7" font-size="7.6" font-family="'Liberation Sans',sans-serif" text-anchor="middle" fill="#333" stroke="#333" stroke-width="0.15" >4000</text>
<line x1="632.43" y1="182.2" x2="632.43" y2="180.6" stroke="#555" stroke-width="0.6"/>
<line x1="644.37" y1="182.2" x2="644.37" y2="180.6" stroke="#555" stroke-width="0.6"/>
<line x1="668.23" y1="182.2" x2="668.23" y2="180.6" stroke="#555" stroke-width="0.6"/>
<line x1="680.17" y1="182.2" x2="680.17" y2="180.6" stroke="#555" stroke-width="0.6"/>
<line x1="704.03" y1="182.2" x2="704.03" y2="180.6" stroke="#555" stroke-width="0.6"/>
<line x1="715.97" y1="182.2" x2="715.97" y2="180.6" stroke="#555" stroke-width="0.6"/>
<line x1="739.83" y1="182.2" x2="739.83" y2="180.6" stroke="#555" stroke-width="0.6"/>
<line x1="751.77" y1="182.2" x2="751.77" y2="180.6" stroke="#555" stroke-width="0.6"/>
<text x="641.6" y="202.6" font-size="9.0" font-family="'Liberation Sans',sans-serif" text-anchor="middle" fill="#333" stroke="#333" stroke-width="0.42">Raman Shift (cm<tspan font-size="5.4" dy="-3.3">-1</tspan><tspan dy="3.3">)</tspan></text>
<text transform="translate(511.6,105) rotate(-90)" font-size="8" font-family="'Liberation Sans',sans-serif" text-anchor="middle" fill="#333" stroke="#333" stroke-width="0.42">Intensity (a.u.)</text>
<line x1="729" y1="34" x2="743.6" y2="34" stroke="#f08898" stroke-width="1.3"/>
<line x1="729" y1="41.7" x2="743.6" y2="41.7" stroke="#4848a4" stroke-width="1.3"/>
<text x="746.0" y="36.5" font-size="7.1" font-family="'Liberation Serif','Noto Serif CJK SC',serif" text-anchor="start" fill="#333" stroke="#333" stroke-width="0.3" >CTC</text>
<text x="746.0" y="44.2" font-size="7.1" font-family="'Liberation Serif','Noto Serif CJK SC',serif" text-anchor="start" fill="#333" stroke="#333" stroke-width="0.3" >THF</text>
<text x="648.4" y="39.8" font-size="6.6" font-family="'Liberation Sans',sans-serif" text-anchor="start" fill="#222" stroke="#222" stroke-width="0.15" >454 cm<tspan font-size="3.96" dy="-2.51">-1</tspan></text>
<text x="670.1" y="60.1" font-size="6.6" font-family="'Liberation Sans',sans-serif" text-anchor="start" fill="#222" stroke="#222" stroke-width="0.15" >916 cm<tspan font-size="3.96" dy="-2.51">-1</tspan></text>
<text x="682.0" y="75.1" font-size="6.6" font-family="'Liberation Sans',sans-serif" text-anchor="start" fill="#222" stroke="#222" stroke-width="0.15" >1393 cm<tspan font-size="3.96" dy="-2.51">-1</tspan></text>
<text x="699.5" y="94.1" font-size="6.6" font-family="'Liberation Sans',sans-serif" text-anchor="start" fill="#222" stroke="#222" stroke-width="0.15" >1820 cm<tspan font-size="3.96" dy="-2.51">-1</tspan></text>
<text x="589.3" y="72.7" font-size="6.6" font-family="'Liberation Sans',sans-serif" text-anchor="start" fill="#222" stroke="#222" stroke-width="0.15" >-450 cm<tspan font-size="3.96" dy="-2.51">-1</tspan></text>
<text x="580.5" y="84.8" font-size="6.6" font-family="'Liberation Sans',sans-serif" text-anchor="start" fill="#222" stroke="#222" stroke-width="0.15" >-920 cm<tspan font-size="3.96" dy="-2.51">-1</tspan></text>
<text x="560.4" y="94.8" font-size="6.6" font-family="'Liberation Sans',sans-serif" text-anchor="start" fill="#222" stroke="#222" stroke-width="0.15" >-1389 cm<tspan font-size="3.96" dy="-2.51">-1</tspan></text>
<text x="686.3" y="132.1" font-size="6.6" font-family="'Liberation Sans',sans-serif" text-anchor="start" fill="#222" stroke="#222" stroke-width="0.15" >2870 cm<tspan font-size="3.96" dy="-2.51">-1</tspan></text>
<text x="734.3" y="124.7" font-size="6.6" font-family="'Liberation Sans',sans-serif" text-anchor="start" fill="#222" stroke="#222" stroke-width="0.15" >2946 cm<tspan font-size="3.96" dy="-2.51">-1</tspan></text>
<line x1="647.40" y1="38.30" x2="640.35" y2="40.49" stroke="#111" stroke-width="0.75"/>
<polygon points="637.10,41.50 639.90,39.06 640.79,41.92" fill="#111"/>
<line x1="668.60" y1="60.10" x2="658.40" y2="66.33" stroke="#111" stroke-width="0.75"/>
<polygon points="655.50,68.10 657.62,65.05 659.18,67.61" fill="#111"/>
<line x1="681.40" y1="75.20" x2="674.52" y2="79.81" stroke="#111" stroke-width="0.75"/>
<polygon points="671.70,81.70 673.69,78.56 675.36,81.05" fill="#111"/>
<line x1="698.70" y1="93.30" x2="689.73" y2="100.65" stroke="#111" stroke-width="0.75"/>
<polygon points="687.10,102.80 688.78,99.49 690.68,101.81" fill="#111"/>
<line x1="605.60" y1="74.30" x2="608.50" y2="82.78" stroke="#111" stroke-width="0.75"/>
<polygon points="609.60,86.00 607.08,83.27 609.92,82.30" fill="#111"/>
<line x1="594.30" y1="87.10" x2="594.30" y2="92.00" stroke="#111" stroke-width="0.75"/>
<polygon points="594.30,95.40 592.80,92.00 595.80,92.00" fill="#111"/>
<line x1="577.00" y1="95.60" x2="577.00" y2="99.80" stroke="#111" stroke-width="0.75"/>
<polygon points="577.00,103.20 575.50,99.80 578.50,99.80" fill="#111"/>
<line x1="704.80" y1="133.10" x2="716.80" y2="137.44" stroke="#111" stroke-width="0.75"/>
<polygon points="720.00,138.60 716.29,138.85 717.31,136.03" fill="#111"/>
<line x1="746.20" y1="126.50" x2="732.31" y2="134.85" stroke="#111" stroke-width="0.75"/>
<polygon points="729.40,136.60 731.54,133.56 733.09,136.13" fill="#111"/>
<line x1="542.2" y1="79.4" x2="542.2" y2="66.3" stroke="#7890d8" stroke-width="1.1"/>
<line x1="542.2" y1="79.4" x2="559.5" y2="84.5" stroke="#7890d8" stroke-width="1.1"/>
<line x1="542.2" y1="79.4" x2="548" y2="91.5" stroke="#7890d8" stroke-width="1.1"/>
<line x1="542.2" y1="79.4" x2="529" y2="86.8" stroke="#7890d8" stroke-width="1.1"/>
<defs><radialGradient id="gCl" cx="0.4" cy="0.35" r="0.7"><stop offset="0" stop-color="#b8f070"/><stop offset="1" stop-color="#58b020"/></radialGradient><radialGradient id="gC" cx="0.4" cy="0.35" r="0.7"><stop offset="0" stop-color="#ff9090"/><stop offset="1" stop-color="#d02828"/></radialGradient><radialGradient id="gC2" cx="0.4" cy="0.35" r="0.7"><stop offset="0" stop-color="#f07070"/><stop offset="1" stop-color="#b82020"/></radialGradient><radialGradient id="gO" cx="0.4" cy="0.35" r="0.7"><stop offset="0" stop-color="#ffff80"/><stop offset="1" stop-color="#d0d000"/></radialGradient><radialGradient id="gCl2" cx="0.4" cy="0.35" r="0.7"><stop offset="0" stop-color="#80ff80"/><stop offset="1" stop-color="#10c010"/></radialGradient><radialGradient id="gGr" cx="0.4" cy="0.35" r="0.7"><stop offset="0" stop-color="#c8c8c8"/><stop offset="1" stop-color="#3c3c3c"/></radialGradient><radialGradient id="gR" cx="0.4" cy="0.35" r="0.7"><stop offset="0" stop-color="#ff6060"/><stop offset="1" stop-color="#e00000"/></radialGradient></defs>
<ellipse cx="542.2" cy="66.3" rx="4.3" ry="3.7" fill="url(#gCl)"/>
<text x="542.2" y="67.20" font-size="2.6" font-family="'Liberation Sans',sans-serif" text-anchor="middle" fill="#f4fff0">cl</text>
<ellipse cx="559.5" cy="84.5" rx="4.3" ry="3.7" fill="url(#gCl)"/>
<text x="559.5" y="85.40" font-size="2.6" font-family="'Liberation Sans',sans-serif" text-anchor="middle" fill="#f4fff0">cl</text>
<ellipse cx="548" cy="91.5" rx="4.3" ry="3.7" fill="url(#gCl)"/>
<text x="548" y="92.40" font-size="2.6" font-family="'Liberation Sans',sans-serif" text-anchor="middle" fill="#f4fff0">cl</text>
<ellipse cx="529" cy="86.8" rx="4.3" ry="3.7" fill="url(#gCl)"/>
<text x="529" y="87.70" font-size="2.6" font-family="'Liberation Sans',sans-serif" text-anchor="middle" fill="#f4fff0">cl</text>
<circle cx="542.4" cy="79.4" r="3.4" fill="url(#gC)"/>
<text x="542.4" y="80.4" font-size="2.8" font-family="'Liberation Sans',sans-serif" text-anchor="middle" fill="#fff0f0">c</text>
<circle cx="547.8" cy="146.3" r="9.5" fill="none" stroke="#fcfc9c" stroke-width="3.4"/>
<line x1="547.1" y1="131.6" x2="561" y2="142.5" stroke="#7080c8" stroke-width="1.1"/>
<line x1="561" y1="142.5" x2="555.8" y2="155.6" stroke="#7080c8" stroke-width="1.1"/>
<line x1="555.8" y1="155.6" x2="540.6" y2="155.6" stroke="#7080c8" stroke-width="1.1"/>
<line x1="540.6" y1="155.6" x2="534.1" y2="142.5" stroke="#7080c8" stroke-width="1.1"/>
<line x1="534.1" y1="142.5" x2="547.1" y2="131.6" stroke="#7080c8" stroke-width="1.1"/>
<line x1="534.1" y1="142.5" x2="526.4" y2="137" stroke="#f0c060" stroke-width="0.7"/>
<circle cx="526.4" cy="137" r="1.6" fill="#bcd0ee" stroke="#98b0dc" stroke-width="0.3"/>
<line x1="534.1" y1="142.5" x2="525" y2="146.2" stroke="#f0c060" stroke-width="0.7"/>
<circle cx="525" cy="146.2" r="1.6" fill="#bcd0ee" stroke="#98b0dc" stroke-width="0.3"/>
<line x1="540.6" y1="155.6" x2="530.4" y2="156" stroke="#f0c060" stroke-width="0.7"/>
<circle cx="530.4" cy="156" r="1.6" fill="#bcd0ee" stroke="#98b0dc" stroke-width="0.3"/>
<line x1="540.6" y1="155.6" x2="535.5" y2="162" stroke="#f0c060" stroke-width="0.7"/>
<circle cx="535.5" cy="162" r="1.6" fill="#bcd0ee" stroke="#98b0dc" stroke-width="0.3"/>
<line x1="555.8" y1="155.6" x2="560.7" y2="161" stroke="#f0c060" stroke-width="0.7"/>
<circle cx="560.7" cy="161" r="1.6" fill="#bcd0ee" stroke="#98b0dc" stroke-width="0.3"/>
<line x1="555.8" y1="155.6" x2="566" y2="156" stroke="#f0c060" stroke-width="0.7"/>
<circle cx="566" cy="156" r="1.6" fill="#bcd0ee" stroke="#98b0dc" stroke-width="0.3"/>
<line x1="561" y1="142.5" x2="569" y2="146.3" stroke="#f0c060" stroke-width="0.7"/>
<circle cx="569" cy="146.3" r="1.6" fill="#bcd0ee" stroke="#98b0dc" stroke-width="0.3"/>
<line x1="561" y1="142.5" x2="568.8" y2="137.2" stroke="#f0c060" stroke-width="0.7"/>
<circle cx="568.8" cy="137.2" r="1.6" fill="#bcd0ee" stroke="#98b0dc" stroke-width="0.3"/>
<ellipse cx="547.4" cy="131.6" rx="3.6" ry="3.1" fill="url(#gO)"/>
<ellipse cx="561" cy="142.5" rx="3.4" ry="3.0" fill="url(#gC2)"/>
<text x="561" y="143.40" font-size="2.6" font-family="'Liberation Sans',sans-serif" text-anchor="middle" fill="#ffe8e8">C</text>
<ellipse cx="555.8" cy="155.6" rx="3.4" ry="3.0" fill="url(#gC2)"/>
<text x="555.8" y="156.50" font-size="2.6" font-family="'Liberation Sans',sans-serif" text-anchor="middle" fill="#ffe8e8">C</text>
<ellipse cx="540.6" cy="155.6" rx="3.4" ry="3.0" fill="url(#gC2)"/>
<text x="540.6" y="156.50" font-size="2.6" font-family="'Liberation Sans',sans-serif" text-anchor="middle" fill="#ffe8e8">C</text>
<ellipse cx="534.1" cy="142.5" rx="3.4" ry="3.0" fill="url(#gC2)"/>
<text x="534.1" y="143.40" font-size="2.6" font-family="'Liberation Sans',sans-serif" text-anchor="middle" fill="#ffe8e8">C</text>
<rect x="186.5" y="242" width="4.7" height="77.6" fill="#f6c4c4"/>
<rect x="214.6" y="242" width="4.6" height="77.6" fill="#f6c4c4"/>
<rect x="284.2" y="273.6" width="13" height="7.5" fill="#aaf2f2"/>
<rect x="284.3" y="320.8" width="14.4" height="6.8" fill="#aaf2f2"/>
<path d="M167.80 265.44L180.27 265.36L183.68 265.26L184.67 265.09L185.56 264.76L186.28 264.33L187.81 263.19L188.52 262.84L188.88 262.78L189.33 262.81L189.78 262.95L190.59 263.29L190.95 263.38L191.31 263.35L191.57 263.20L191.84 262.91L192.02 262.62L192.47 261.46L192.83 259.96L193.19 257.86L193.55 255.05L193.82 252.45L194.18 248.32L194.62 242.20L194.71 242.20L199.74 242.20L199.83 242.60L200.55 251.56L200.99 255.61L201.26 257.44L201.53 258.83L201.80 259.78L201.98 260.19L202.16 260.42L202.34 260.47L202.52 260.34L202.70 260.03L202.88 259.54L203.24 258.00L203.51 256.34L204.04 251.66L204.76 242.74L204.85 242.20L209.97 242.20L210.68 251.44L211.04 255.06L211.40 257.94L211.76 260.13L212.12 261.73L212.57 263.04L212.75 263.40L213.02 263.78L213.29 264.02L213.55 264.14L213.82 264.17L214.09 264.13L214.63 263.90L216.07 263.02L216.51 262.86L216.96 262.83L217.41 262.92L217.86 263.14L219.48 264.33L220.10 264.72L220.73 264.99L221.45 265.18L222.26 265.29L223.42 265.34L230.60 265.41" fill="none" stroke="#80cca0" stroke-width="0.9"/>
<path d="M165.00 308.35L180.22 308.27L182.79 308.23L184.08 308.16L185.07 307.98L185.86 307.68L186.55 307.27L188.23 306.03L188.73 305.80L189.12 305.72L189.52 305.74L190.01 305.90L190.51 306.17L191.59 306.90L192.09 307.13L192.58 307.19L192.88 307.10L193.08 306.96L193.37 306.62L193.57 306.28L193.97 305.24L194.36 303.59L194.76 301.14L195.05 298.68L195.35 295.64L195.74 290.66L196.14 284.74L196.24 284.00L200.79 284.00L200.89 284.81L201.58 294.33L202.07 299.17L202.37 301.26L202.66 302.78L202.96 303.75L203.26 304.23L203.46 304.28L203.65 304.11L203.95 303.45L204.35 301.77L204.64 299.85L204.94 297.33L205.23 294.19L205.93 284.62L206.03 284.00L210.57 284.00L211.36 294.61L211.66 297.82L211.96 300.42L212.25 302.47L212.65 304.44L213.04 305.69L213.24 306.10L213.54 306.51L213.74 306.68L213.93 306.76L214.13 306.80L214.43 306.76L214.82 306.59L216.11 305.86L216.60 305.71L217.00 305.70L217.39 305.79L217.89 306.03L219.47 307.20L220.16 307.63L220.85 307.91L221.65 308.10L222.53 308.19L223.92 308.24L234.20 308.32" fill="none" stroke="#6898e0" stroke-width="0.9"/>
<rect x="167.4" y="241.8" width="63.6" height="33.6" fill="none" stroke="#8888f4" stroke-width="0.9"/>
<rect x="164.4" y="283.5" width="70.3" height="36.1" fill="none" stroke="#90e890" stroke-width="0.9"/>
<path d="M144.65 277.80L287.74 277.77L288.09 277.60L288.43 276.73L288.78 273.81L289.64 254.70L289.81 252.58L289.98 252.58L290.16 254.70L291.02 273.77L291.36 276.47L291.53 276.68L291.71 276.20L292.05 272.56L292.22 268.97L292.91 247.63L293.09 244.86L293.26 244.86L293.43 247.63L294.29 272.59L294.64 276.40L294.98 277.54L295.33 277.77L381.60 277.80" fill="none" stroke="#40b080" stroke-width="1.1"/>
<path d="M144.65 324.40L287.74 324.37L288.09 324.20L288.43 323.33L288.78 320.41L289.64 301.30L289.81 299.18L289.98 299.18L290.16 301.30L291.02 320.37L291.36 323.06L291.53 323.26L291.71 322.75L292.05 318.97L292.22 315.25L292.91 293.14L293.09 290.28L293.26 290.28L293.43 293.14L294.29 319.00L294.64 322.95L294.98 324.13L295.33 324.36L381.60 324.40" fill="none" stroke="#3a80e0" stroke-width="1.1"/>
<path d="M144.65 364.60L287.74 364.57L288.09 364.40L288.43 363.53L288.78 360.61L289.64 341.50L289.81 339.38L289.98 339.38L290.16 341.50L291.02 360.57L291.36 363.24L291.53 363.42L291.71 362.87L292.05 358.86L292.22 354.92L292.91 331.53L293.09 328.50L293.26 328.50L293.43 331.53L294.29 358.89L294.64 363.07L294.98 364.31L295.33 364.56L381.60 364.60" fill="none" stroke="#f06060" stroke-width="1.1"/>
<path d="M144.65 404.60L287.74 404.56L288.09 404.32L288.43 403.11L288.78 399.04L289.64 372.44L289.81 369.49L289.98 369.49L290.16 372.44L291.02 399.01L291.19 401.49L291.36 402.83L291.53 403.25L291.71 402.83L291.88 401.49L292.05 399.01L292.91 372.44L293.09 369.49L293.26 369.49L293.43 372.44L294.29 399.04L294.64 403.11L294.98 404.32L295.33 404.56L381.60 404.60" fill="none" stroke="#555" stroke-width="1.3"/>
<rect x="144.6" y="240.0" width="237.00000000000003" height="173.8" fill="none" stroke="#777" stroke-width="1.4"/>
<text x="144.65" y="423.1" font-size="7.5" font-family="'Liberation Sans',sans-serif" text-anchor="middle" fill="#333" stroke="#333" stroke-width="0.2" >-500</text>
<line x1="151.83" y1="413.8" x2="151.83" y2="412.2" stroke="#555" stroke-width="0.7"/>
<line x1="159.02" y1="413.8" x2="159.02" y2="412.2" stroke="#555" stroke-width="0.7"/>
<line x1="166.20" y1="413.8" x2="166.20" y2="410.8" stroke="#555" stroke-width="0.7"/>
<text x="166.20" y="423.1" font-size="7.5" font-family="'Liberation Sans',sans-serif" text-anchor="middle" fill="#333" stroke="#333" stroke-width="0.2" >0</text>
<line x1="173.38" y1="413.8" x2="173.38" y2="412.2" stroke="#555" stroke-width="0.7"/>
<line x1="180.57" y1="413.8" x2="180.57" y2="412.2" stroke="#555" stroke-width="0.7"/>
<line x1="187.75" y1="413.8" x2="187.75" y2="410.8" stroke="#555" stroke-width="0.7"/>
<text x="187.75" y="423.1" font-size="7.5" font-family="'Liberation Sans',sans-serif" text-anchor="middle" fill="#333" stroke="#333" stroke-width="0.2" >500</text>
<line x1="194.93" y1="413.8" x2="194.93" y2="412.2" stroke="#555" stroke-width="0.7"/>
<line x1="202.12" y1="413.8" x2="202.12" y2="412.2" stroke="#555" stroke-width="0.7"/>
<line x1="209.30" y1="413.8" x2="209.30" y2="410.8" stroke="#555" stroke-width="0.7"/>
<text x="209.30" y="423.1" font-size="7.5" font-family="'Liberation Sans',sans-serif" text-anchor="middle" fill="#333" stroke="#333" stroke-width="0.2" >1000</text>
<line x1="216.48" y1="413.8" x2="216.48" y2="412.2" stroke="#555" stroke-width="0.7"/>
<line x1="223.67" y1="413.8" x2="223.67" y2="412.2" stroke="#555" stroke-width="0.7"/>
<line x1="230.85" y1="413.8" x2="230.85" y2="410.8" stroke="#555" stroke-width="0.7"/>
<text x="230.85" y="423.1" font-size="7.5" font-family="'Liberation Sans',sans-serif" text-anchor="middle" fill="#333" stroke="#333" stroke-width="0.2" >1500</text>
<line x1="238.03" y1="413.8" x2="238.03" y2="412.2" stroke="#555" stroke-width="0.7"/>
<line x1="245.22" y1="413.8" x2="245.22" y2="412.2" stroke="#555" stroke-width="0.7"/>
<line x1="252.40" y1="413.8" x2="252.40" y2="410.8" stroke="#555" stroke-width="0.7"/>
<text x="252.40" y="423.1" font-size="7.5" font-family="'Liberation Sans',sans-serif" text-anchor="middle" fill="#333" stroke="#333" stroke-width="0.2" >2000</text>
<line x1="259.58" y1="413.8" x2="259.58" y2="412.2" stroke="#555" stroke-width="0.7"/>
<line x1="266.77" y1="413.8" x2="266.77" y2="412.2" stroke="#555" stroke-width="0.7"/>
<line x1="273.95" y1="413.8" x2="273.95" y2="410.8" stroke="#555" stroke-width="0.7"/>
<text x="273.95" y="423.1" font-size="7.5" font-family="'Liberation Sans',sans-serif" text-anchor="middle" fill="#333" stroke="#333" stroke-width="0.2" >2500</text>
<line x1="281.13" y1="413.8" x2="281.13" y2="412.2" stroke="#555" stroke-width="0.7"/>
<line x1="288.32" y1="413.8" x2="288.32" y2="412.2" stroke="#555" stroke-width="0.7"/>
<line x1="295.50" y1="413.8" x2="295.50" y2="410.8" stroke="#555" stroke-width="0.7"/>
<text x="295.50" y="423.1" font-size="7.5" font-family="'Liberation Sans',sans-serif" text-anchor="middle" fill="#333" stroke="#333" stroke-width="0.2" >3000</text>
<line x1="302.68" y1="413.8" x2="302.68" y2="412.2" stroke="#555" stroke-width="0.7"/>
<line x1="309.87" y1="413.8" x2="309.87" y2="412.2" stroke="#555" stroke-width="0.7"/>
<line x1="317.05" y1="413.8" x2="317.05" y2="410.8" stroke="#555" stroke-width="0.7"/>
<text x="317.05" y="423.1" font-size="7.5" font-family="'Liberation Sans',sans-serif" text-anchor="middle" fill="#333" stroke="#333" stroke-width="0.2" >3500</text>
<line x1="324.23" y1="413.8" x2="324.23" y2="412.2" stroke="#555" stroke-width="0.7"/>
<line x1="331.42" y1="413.8" x2="331.42" y2="412.2" stroke="#555" stroke-width="0.7"/>
<line x1="338.60" y1="413.8" x2="338.60" y2="410.8" stroke="#555" stroke-width="0.7"/>
<text x="338.60" y="423.1" font-size="7.5" font-family="'Liberation Sans',sans-serif" text-anchor="middle" fill="#333" stroke="#333" stroke-width="0.2" >4000</text>
<line x1="345.78" y1="413.8" x2="345.78" y2="412.2" stroke="#555" stroke-width="0.7"/>
<line x1="352.97" y1="413.8" x2="352.97" y2="412.2" stroke="#555" stroke-width="0.7"/>
<line x1="360.15" y1="413.8" x2="360.15" y2="410.8" stroke="#555" stroke-width="0.7"/>
<text x="360.15" y="423.1" font-size="7.5" font-family="'Liberation Sans',sans-serif" text-anchor="middle" fill="#333" stroke="#333" stroke-width="0.2" >4500</text>
<line x1="367.33" y1="413.8" x2="367.33" y2="412.2" stroke="#555" stroke-width="0.7"/>
<line x1="374.52" y1="413.8" x2="374.52" y2="412.2" stroke="#555" stroke-width="0.7"/>
<text x="381.70" y="423.1" font-size="7.5" font-family="'Liberation Sans',sans-serif" text-anchor="middle" fill="#333" stroke="#333" stroke-width="0.2" >5000</text>
<text x="266.8" y="435.6" font-size="9" font-family="'Liberation Sans',sans-serif" text-anchor="middle" fill="#333" stroke="#333" stroke-width="0.42">Raman Shift (cm<tspan font-size="5.4" dy="-3.4">-1</tspan><tspan dy="3.4">)</tspan></text>
<text transform="translate(136.7,324.3) rotate(-90)" font-size="9.25" font-family="'Liberation Sans',sans-serif" text-anchor="middle" fill="#333" stroke="#333" stroke-width="0.42">Intensity (a.u.)</text>
<text x="147.3" y="252.4" font-size="11.0" font-family="'Liberation Serif','Noto Serif CJK SC',serif" text-anchor="start" fill="#333" stroke="#333" stroke-width="0.35" >(a)</text>
<text x="146.2" y="273.6" font-size="8.6" font-family="'Liberation Sans',sans-serif" text-anchor="start" fill="#222" stroke="#222" stroke-width="0.3" >6:4</text>
<text x="146.2" y="322.0" font-size="8.6" font-family="'Liberation Sans',sans-serif" text-anchor="start" fill="#222" stroke="#222" stroke-width="0.3" >7:3</text>
<text x="146.2" y="362.4" font-size="8.6" font-family="'Liberation Sans',sans-serif" text-anchor="start" fill="#222" stroke="#222" stroke-width="0.3" >8:2</text>
<text x="146.2" y="403.1" font-size="8.6" font-family="'Liberation Sans',sans-serif" text-anchor="start" fill="#222" stroke="#222" stroke-width="0.3" >9:1</text>
<line x1="287.6" y1="272.1" x2="235.0" y2="258.4" stroke="#f03030" stroke-width="1.15" stroke-dasharray="4.2,3"/>
<polygon points="231.2,257.4 236.2,256.0 235.0,260.6" fill="#f03030"/>
<line x1="284.4" y1="326.8" x2="237.0" y2="313.8" stroke="#f03030" stroke-width="1.15" stroke-dasharray="4.2,3"/>
<polygon points="234.9,313.2 239.7,311.8 238.6,316.4" fill="#f03030"/>
<text x="255.0" y="291.6" font-size="6.2" font-family="'Liberation Sans',sans-serif" text-anchor="start" fill="#222" stroke="#222" stroke-width="0.15" >2870 cm<tspan font-size="3.72" dy="-2.36">-1</tspan></text>
<text x="306.0" y="287.4" font-size="6.2" font-family="'Liberation Sans',sans-serif" text-anchor="start" fill="#222" stroke="#222" stroke-width="0.15" >2946 cm<tspan font-size="3.72" dy="-2.36">-1</tspan></text>
<text x="255.5" y="313.5" font-size="6.8" font-family="'Liberation Sans',sans-serif" text-anchor="start" fill="#222" stroke="#222" stroke-width="0.15" >2713 cm<tspan font-size="4.08" dy="-2.58">-1</tspan></text>
<text x="306.0" y="318.6" font-size="6.8" font-family="'Liberation Sans',sans-serif" text-anchor="start" fill="#222" stroke="#222" stroke-width="0.15" >3083 cm<tspan font-size="4.08" dy="-2.58">-1</tspan></text>
<line x1="289.80" y1="299.00" x2="282.55" y2="294.32" stroke="#111" stroke-width="0.5"/>
<polygon points="280.20,292.80 283.23,293.27 281.87,295.37" fill="#111"/>
<line x1="295.20" y1="291.20" x2="302.55" y2="287.15" stroke="#111" stroke-width="0.5"/>
<polygon points="305.00,285.80 303.15,288.25 301.94,286.06" fill="#111"/>
<line x1="284.70" y1="322.40" x2="280.27" y2="318.77" stroke="#111" stroke-width="0.5"/>
<polygon points="278.10,317.00 281.06,317.81 279.48,319.74" fill="#111"/>
<line x1="298.20" y1="321.20" x2="300.43" y2="319.18" stroke="#111" stroke-width="0.5"/>
<polygon points="302.50,317.30 301.27,320.11 299.59,318.26" fill="#111"/>
<line x1="336.5" y1="298.8" x2="324.90" y2="296.30" stroke="#b0b0b0" stroke-width="0.6"/>
<line x1="336.5" y1="298.8" x2="343.50" y2="289.10" stroke="#b0b0b0" stroke-width="0.6"/>
<line x1="336.5" y1="298.8" x2="340.40" y2="308.20" stroke="#b0b0b0" stroke-width="0.6"/>
<line x1="336.5" y1="298.8" x2="337.60" y2="301.90" stroke="#b0b0b0" stroke-width="0.6"/>
<circle cx="337.60" cy="301.90" r="3.00" fill="url(#gCl2)"/>
<circle cx="324.90" cy="296.30" r="3.00" fill="url(#gCl2)"/>
<circle cx="343.50" cy="289.10" r="3.00" fill="url(#gCl2)"/>
<circle cx="340.40" cy="308.20" r="3.00" fill="url(#gCl2)"/>
<circle cx="336.5" cy="298.8" r="2.40" fill="url(#gGr)"/>
<line x1="361.60" y1="291.00" x2="357.50" y2="299.00" stroke="#999" stroke-width="0.7"/>
<line x1="357.50" y1="299.00" x2="363.60" y2="306.00" stroke="#999" stroke-width="0.7"/>
<line x1="363.60" y1="306.00" x2="371.90" y2="302.00" stroke="#999" stroke-width="0.7"/>
<line x1="371.90" y1="302.00" x2="369.70" y2="292.70" stroke="#999" stroke-width="0.7"/>
<line x1="369.70" y1="292.70" x2="361.60" y2="291.00" stroke="#999" stroke-width="0.7"/>
<line x1="357.50" y1="299.00" x2="351.80" y2="299.60" stroke="#aaa" stroke-width="0.6"/>
<circle cx="351.80" cy="299.60" r="1.15" fill="url(#gGr)"/>
<line x1="369.70" y1="292.70" x2="375.40" y2="289.80" stroke="#aaa" stroke-width="0.6"/>
<circle cx="375.40" cy="289.80" r="1.15" fill="url(#gGr)"/>
<line x1="369.70" y1="292.70" x2="372.60" y2="294.00" stroke="#aaa" stroke-width="0.6"/>
<circle cx="372.60" cy="294.00" r="1.15" fill="url(#gGr)"/>
<line x1="371.90" y1="302.00" x2="377.80" y2="303.60" stroke="#aaa" stroke-width="0.6"/>
<circle cx="377.80" cy="303.60" r="1.15" fill="url(#gGr)"/>
<line x1="371.90" y1="302.00" x2="372.80" y2="306.50" stroke="#aaa" stroke-width="0.6"/>
<circle cx="372.80" cy="306.50" r="1.15" fill="url(#gGr)"/>
<line x1="363.60" y1="306.00" x2="361.20" y2="310.40" stroke="#aaa" stroke-width="0.6"/>
<circle cx="361.20" cy="310.40" r="1.15" fill="url(#gGr)"/>
<line x1="363.60" y1="306.00" x2="365.40" y2="310.40" stroke="#aaa" stroke-width="0.6"/>
<circle cx="365.40" cy="310.40" r="1.15" fill="url(#gGr)"/>
<line x1="357.50" y1="299.00" x2="359.40" y2="302.50" stroke="#aaa" stroke-width="0.6"/>
<circle cx="359.40" cy="302.50" r="1.15" fill="url(#gGr)"/>
<circle cx="357.50" cy="299.00" r="2.70" fill="url(#gGr)"/>
<circle cx="363.60" cy="306.00" r="2.70" fill="url(#gGr)"/>
<circle cx="371.90" cy="302.00" r="2.70" fill="url(#gGr)"/>
<circle cx="369.70" cy="292.70" r="2.70" fill="url(#gGr)"/>
<circle cx="361.6" cy="291.0" r="2.50" fill="url(#gR)"/>
<path d="M410.30 266.60L468.94 266.57L470.85 266.46L472.47 265.89L473.89 266.43L475.04 266.55L481.32 266.55L483.51 266.27L485.51 266.53L490.08 266.47L491.51 266.30L491.89 266.16L492.27 265.85L492.84 264.81L493.70 262.27L493.98 261.98L494.27 262.38L495.03 264.69L495.41 265.51L495.88 266.06L496.46 266.31L498.74 266.50L504.26 266.53L509.21 266.44L511.78 266.23L512.83 265.98L513.50 265.60L513.88 265.09L514.26 264.04L514.83 260.45L515.69 251.29L515.97 250.07L516.07 250.21L516.26 251.29L517.11 260.44L517.69 264.02L518.07 265.07L518.54 265.65L519.21 265.98L520.35 266.21L522.06 266.32L523.78 266.26L524.73 266.09L525.30 265.73L525.68 265.15L525.97 264.38L527.02 259.40L527.30 258.84L527.59 259.41L528.44 263.69L528.92 265.17L529.20 265.65L529.59 265.99L530.63 266.30L534.06 266.46L535.68 266.42L536.54 266.28L536.92 266.10L537.30 265.75L538.34 263.81L538.63 263.56L538.82 263.64L539.01 263.89L539.68 265.24L540.15 265.92L540.72 266.29L541.68 266.45L544.44 266.53L546.82 266.48L547.48 266.34L548.82 265.77L550.24 266.38L551.39 266.53L561.38 266.57L566.24 266.48L566.90 266.38L567.38 266.16L567.76 265.76L568.43 264.70L568.71 264.51L569.00 264.74L569.86 265.94L570.24 266.14L570.71 266.15L571.19 265.86L571.47 265.06L572.04 259.58L572.14 258.96L572.24 258.95L572.81 264.36L573.09 265.44L573.38 265.63L573.57 265.53L573.76 265.18L574.04 263.48L574.71 252.92L574.90 255.01L575.28 262.34L575.47 264.27L575.66 265.13L575.85 265.43L576.04 265.48L576.80 264.92L577.09 264.90L578.14 266.08L578.90 266.41L580.99 266.53L586.71 266.58L648.30 266.60" fill="none" stroke="#50e050" stroke-width="1.1"/>
<path d="M410.30 315.00L468.66 314.96L470.75 314.89L472.47 314.46L473.80 314.82L474.56 314.91L479.80 314.83L481.13 314.64L481.80 314.21L482.37 313.18L483.22 310.63L483.51 310.34L483.79 310.73L484.75 313.50L485.03 314.01L485.41 314.40L485.98 314.64L486.94 314.75L490.17 314.67L491.03 314.52L491.60 314.27L491.98 313.89L492.27 313.35L492.84 311.13L493.70 305.65L493.89 305.08L493.98 305.04L494.27 305.88L495.03 310.86L495.41 312.64L495.88 313.82L496.46 314.35L497.31 314.61L498.93 314.76L505.02 314.79L509.40 314.55L510.74 314.33L511.78 314.01L512.83 313.34L513.21 312.88L513.50 312.33L513.88 311.00L514.26 308.21L514.83 298.75L515.69 274.60L515.88 271.76L515.97 271.38L516.07 271.76L516.26 274.59L517.11 298.71L517.69 308.16L518.07 310.93L518.45 312.24L518.73 312.78L519.11 313.22L519.59 313.57L520.26 313.87L521.11 314.06L522.06 314.13L523.02 314.05L523.78 313.85L524.35 313.55L524.73 313.19L525.02 312.71L525.30 311.88L525.68 309.73L525.97 306.91L527.02 288.67L527.21 286.83L527.30 286.59L527.40 286.84L527.59 288.68L528.35 302.80L528.82 308.96L529.11 311.04L529.40 312.26L529.78 313.11L530.25 313.63L530.92 313.98L531.87 314.23L533.01 314.33L534.25 314.28L535.11 314.11L535.77 313.82L536.25 313.37L536.54 312.84L536.92 311.47L537.30 308.77L538.34 294.20L538.63 292.28L538.82 292.86L539.01 294.79L539.68 304.94L540.15 310.03L540.63 312.51L540.91 313.22L541.30 313.73L541.96 314.15L543.01 314.46L544.53 314.65L546.34 314.70L546.91 314.63L547.39 314.46L548.53 313.46L548.82 313.35L549.20 313.54L550.05 314.38L550.62 314.67L551.58 314.81L553.96 314.85L555.38 314.82L556.15 314.71L556.62 314.51L557.48 313.85L557.86 313.69L558.24 313.84L559.10 314.50L559.76 314.74L560.91 314.82L563.29 314.79L564.90 314.69L566.05 314.50L566.71 314.19L567.09 313.70L567.57 312.16L568.43 306.03L568.62 305.23L568.71 305.16L569.00 306.24L569.57 310.48L569.95 312.34L570.24 313.00L570.52 313.20L570.81 313.05L571.09 312.46L571.38 310.40L571.57 306.76L572.04 287.40L572.14 284.98L572.24 284.95L572.90 308.35L573.19 311.13L573.28 311.39L573.38 311.47L573.47 311.41L573.66 310.80L573.85 309.04L574.04 304.80L574.71 271.51L574.90 278.01L575.28 300.86L575.57 308.19L575.76 309.40L575.85 309.43L575.95 309.22L576.23 307.60L576.80 302.85L577.00 302.25L577.09 302.38L577.28 303.44L577.85 309.11L578.23 311.88L578.71 313.53L578.99 313.95L579.28 314.18L580.14 314.51L581.56 314.72L587.28 314.92L648.30 315.00" fill="none" stroke="#f09040" stroke-width="1.1"/>
<path d="M410.30 339.80L468.75 339.78L470.75 339.74L472.47 339.48L474.56 339.75L479.80 339.72L481.13 339.63L481.80 339.42L482.37 338.93L483.22 337.71L483.51 337.57L483.79 337.76L484.75 339.08L485.41 339.51L486.94 339.68L490.17 339.63L491.60 339.42L491.98 339.21L492.27 338.92L492.84 337.73L493.70 334.80L493.98 334.47L494.27 334.92L495.03 337.59L495.41 338.54L495.88 339.17L496.46 339.46L498.74 339.68L504.45 339.71L509.21 339.61L511.78 339.35L512.83 339.04L513.50 338.58L513.88 337.97L514.26 336.69L514.83 332.33L515.69 321.23L515.88 319.93L515.97 319.76L516.07 319.93L516.26 321.23L517.11 332.32L517.69 336.67L518.07 337.94L518.45 338.55L519.11 339.00L520.26 339.30L522.06 339.43L523.78 339.34L524.73 339.08L525.30 338.57L525.68 337.74L525.97 336.64L527.02 329.53L527.30 328.72L527.59 329.53L528.44 335.64L529.01 338.03L529.40 338.73L529.78 339.07L530.44 339.32L531.58 339.49L533.39 339.57L535.11 339.52L536.06 339.37L536.63 339.08L537.01 338.61L537.39 337.71L538.34 333.80L538.63 333.25L538.82 333.41L539.01 333.97L539.68 336.89L540.15 338.35L540.72 339.15L541.49 339.46L544.06 339.65L546.72 339.56L547.48 339.19L548.53 337.90L548.82 337.76L549.10 337.90L549.86 338.91L550.34 339.35L550.82 339.56L551.58 339.67L557.19 339.76L566.43 339.72L567.48 339.56L568.43 338.99L568.71 338.91L569.86 339.43L570.52 339.44L570.90 339.31L571.19 339.02L571.47 338.05L572.04 331.49L572.14 330.75L572.24 330.74L572.90 337.90L573.09 338.61L573.28 338.87L573.47 338.90L573.66 338.78L573.85 338.36L574.04 337.33L574.71 329.16L574.90 330.79L575.28 336.52L575.47 338.05L575.66 338.75L575.85 339.04L576.04 339.15L577.09 339.13L578.52 339.65L580.52 339.75L586.32 339.78L648.30 339.80" fill="none" stroke="#3a80e0" stroke-width="1.1"/>
<path d="M410.30 364.80L468.75 364.78L470.75 364.74L472.47 364.48L474.56 364.75L479.80 364.71L481.13 364.61L481.80 364.38L482.37 363.81L483.22 362.43L483.51 362.27L483.79 362.48L484.75 363.99L485.41 364.48L486.94 364.67L490.17 364.63L491.60 364.41L491.98 364.21L492.27 363.92L492.84 362.73L493.70 359.80L493.98 359.47L494.27 359.92L495.03 362.59L495.41 363.54L495.88 364.17L496.46 364.46L498.74 364.68L504.45 364.71L509.21 364.61L511.78 364.35L512.83 364.04L513.50 363.58L513.88 362.97L514.26 361.69L514.83 357.34L515.69 346.24L515.88 344.93L515.97 344.76L516.07 344.93L516.26 346.23L517.11 357.32L517.69 361.67L518.07 362.94L518.45 363.55L519.11 364.00L520.26 364.30L522.06 364.43L523.78 364.34L524.73 364.09L525.30 363.59L525.68 362.77L525.97 361.69L527.02 354.71L527.30 353.92L527.59 354.72L528.44 360.71L529.01 363.06L529.40 363.75L529.78 364.08L530.44 364.33L531.58 364.49L533.39 364.57L535.11 364.51L536.06 364.37L536.63 364.08L537.01 363.60L537.39 362.68L538.34 358.71L538.63 358.15L538.72 358.18L538.92 358.56L539.77 362.21L540.34 363.70L540.72 364.14L541.10 364.35L542.82 364.61L545.58 364.65L546.91 364.49L547.58 364.04L548.44 362.83L548.82 362.56L549.10 362.72L550.24 364.24L550.72 364.51L551.48 364.66L554.53 364.75L562.72 364.78L568.52 364.75L570.52 364.66L571.19 364.45L571.47 364.02L572.04 361.09L572.14 360.76L572.24 360.76L572.90 363.93L573.19 364.30L573.47 364.34L573.66 364.25L573.85 363.99L574.04 363.38L574.71 358.55L574.90 359.51L575.28 362.90L575.57 364.07L575.95 364.49L577.00 364.69L584.61 364.79L648.30 364.80" fill="none" stroke="#f06060" stroke-width="1.1"/>
<path d="M410.30 394.30L468.66 394.27L470.75 394.23L472.47 393.98L474.56 394.24L479.80 394.18L481.13 394.04L481.80 393.73L482.37 392.96L483.22 391.08L483.51 390.86L483.79 391.15L484.75 393.20L485.03 393.57L485.41 393.87L485.98 394.04L486.84 394.12L490.17 394.08L491.60 393.80L491.98 393.54L492.27 393.17L492.84 391.64L493.70 387.89L493.89 387.49L493.98 387.46L494.27 388.04L495.03 391.46L495.41 392.68L495.88 393.49L496.46 393.86L497.31 394.04L498.74 394.14L504.26 394.18L509.21 394.05L511.78 393.74L512.83 393.36L513.50 392.79L513.88 392.04L514.26 390.47L514.83 385.14L515.69 371.54L515.88 369.94L515.97 369.72L516.07 369.94L516.26 371.53L517.11 385.11L517.69 390.43L518.07 391.99L518.45 392.73L519.11 393.28L520.16 393.61L522.16 393.74L523.87 393.49L524.73 393.02L525.02 392.67L525.30 392.05L525.68 390.47L525.97 388.38L527.02 374.93L527.21 373.58L527.30 373.40L527.40 373.58L527.59 374.93L528.44 386.48L529.01 391.00L529.40 392.33L529.78 392.97L530.44 393.45L531.58 393.77L533.20 393.93L535.01 393.90L536.06 393.71L536.63 393.34L537.01 392.73L537.39 391.55L538.34 386.43L538.63 385.71L538.72 385.75L538.92 386.24L539.77 390.95L540.34 392.87L540.72 393.44L541.10 393.71L541.77 393.92L542.82 394.05L545.58 394.12L546.91 393.96L547.58 393.52L548.44 392.31L548.82 392.04L549.10 392.20L549.96 393.43L550.53 393.91L551.29 394.12L553.10 394.22L558.24 394.23L560.24 393.87L561.95 394.22L564.52 394.27L648.30 394.30" fill="none" stroke="#9030a8" stroke-width="1.1"/>
<rect x="566.3" y="239.2" width="4.5" height="173.3" fill="#b4f0f4" style="mix-blend-mode:multiply"/>
<rect x="576.2" y="239.2" width="5.0" height="173.3" fill="#b4f0f4" style="mix-blend-mode:multiply"/>
<rect x="410.0" y="238.4" width="238.0" height="174.79999999999998" fill="none" stroke="#777" stroke-width="1.4"/>
<text x="410.30" y="422.9" font-size="7.5" font-family="'Liberation Sans',sans-serif" text-anchor="middle" fill="#333" stroke="#333" stroke-width="0.2" >-4000</text>
<line x1="418.23" y1="413.2" x2="418.23" y2="411.59999999999997" stroke="#555" stroke-width="0.7"/>
<line x1="426.17" y1="413.2" x2="426.17" y2="411.59999999999997" stroke="#555" stroke-width="0.7"/>
<line x1="434.10" y1="413.2" x2="434.10" y2="410.2" stroke="#555" stroke-width="0.7"/>
<text x="434.10" y="422.9" font-size="7.5" font-family="'Liberation Sans',sans-serif" text-anchor="middle" fill="#333" stroke="#333" stroke-width="0.2" >-3000</text>
<line x1="442.03" y1="413.2" x2="442.03" y2="411.59999999999997" stroke="#555" stroke-width="0.7"/>
<line x1="449.97" y1="413.2" x2="449.97" y2="411.59999999999997" stroke="#555" stroke-width="0.7"/>
<line x1="457.90" y1="413.2" x2="457.90" y2="410.2" stroke="#555" stroke-width="0.7"/>
<text x="457.90" y="422.9" font-size="7.5" font-family="'Liberation Sans',sans-serif" text-anchor="middle" fill="#333" stroke="#333" stroke-width="0.2" >-2000</text>
<line x1="465.83" y1="413.2" x2="465.83" y2="411.59999999999997" stroke="#555" stroke-width="0.7"/>
<line x1="473.77" y1="413.2" x2="473.77" y2="411.59999999999997" stroke="#555" stroke-width="0.7"/>
<line x1="481.70" y1="413.2" x2="481.70" y2="410.2" stroke="#555" stroke-width="0.7"/>
<text x="481.70" y="422.9" font-size="7.5" font-family="'Liberation Sans',sans-serif" text-anchor="middle" fill="#333" stroke="#333" stroke-width="0.2" >-1000</text>
<line x1="489.63" y1="413.2" x2="489.63" y2="411.59999999999997" stroke="#555" stroke-width="0.7"/>
<line x1="497.57" y1="413.2" x2="497.57" y2="411.59999999999997" stroke="#555" stroke-width="0.7"/>
<line x1="505.50" y1="413.2" x2="505.50" y2="410.2" stroke="#555" stroke-width="0.7"/>
<text x="505.50" y="422.9" font-size="7.5" font-family="'Liberation Sans',sans-serif" text-anchor="middle" fill="#333" stroke="#333" stroke-width="0.2" >0</text>
<line x1="513.43" y1="413.2" x2="513.43" y2="411.59999999999997" stroke="#555" stroke-width="0.7"/>
<line x1="521.37" y1="413.2" x2="521.37" y2="411.59999999999997" stroke="#555" stroke-width="0.7"/>
<line x1="529.30" y1="413.2" x2="529.30" y2="410.2" stroke="#555" stroke-width="0.7"/>
<text x="529.30" y="422.9" font-size="7.5" font-family="'Liberation Sans',sans-serif" text-anchor="middle" fill="#333" stroke="#333" stroke-width="0.2" >1000</text>
<line x1="537.23" y1="413.2" x2="537.23" y2="411.59999999999997" stroke="#555" stroke-width="0.7"/>
<line x1="545.17" y1="413.2" x2="545.17" y2="411.59999999999997" stroke="#555" stroke-width="0.7"/>
<line x1="553.10" y1="413.2" x2="553.10" y2="410.2" stroke="#555" stroke-width="0.7"/>
<text x="553.10" y="422.9" font-size="7.5" font-family="'Liberation Sans',sans-serif" text-anchor="middle" fill="#333" stroke="#333" stroke-width="0.2" >2000</text>
<line x1="561.03" y1="413.2" x2="561.03" y2="411.59999999999997" stroke="#555" stroke-width="0.7"/>
<line x1="568.97" y1="413.2" x2="568.97" y2="411.59999999999997" stroke="#555" stroke-width="0.7"/>
<line x1="576.90" y1="413.2" x2="576.90" y2="410.2" stroke="#555" stroke-width="0.7"/>
<text x="576.90" y="422.9" font-size="7.5" font-family="'Liberation Sans',sans-serif" text-anchor="middle" fill="#333" stroke="#333" stroke-width="0.2" >3000</text>
<line x1="584.83" y1="413.2" x2="584.83" y2="411.59999999999997" stroke="#555" stroke-width="0.7"/>
<line x1="592.77" y1="413.2" x2="592.77" y2="411.59999999999997" stroke="#555" stroke-width="0.7"/>
<line x1="600.70" y1="413.2" x2="600.70" y2="410.2" stroke="#555" stroke-width="0.7"/>
<text x="600.70" y="422.9" font-size="7.5" font-family="'Liberation Sans',sans-serif" text-anchor="middle" fill="#333" stroke="#333" stroke-width="0.2" >4000</text>
<line x1="608.63" y1="413.2" x2="608.63" y2="411.59999999999997" stroke="#555" stroke-width="0.7"/>
<line x1="616.57" y1="413.2" x2="616.57" y2="411.59999999999997" stroke="#555" stroke-width="0.7"/>
<line x1="624.50" y1="413.2" x2="624.50" y2="410.2" stroke="#555" stroke-width="0.7"/>
<text x="624.50" y="422.9" font-size="7.5" font-family="'Liberation Sans',sans-serif" text-anchor="middle" fill="#333" stroke="#333" stroke-width="0.2" >5000</text>
<line x1="632.43" y1="413.2" x2="632.43" y2="411.59999999999997" stroke="#555" stroke-width="0.7"/>
<line x1="640.37" y1="413.2" x2="640.37" y2="411.59999999999997" stroke="#555" stroke-width="0.7"/>
<text x="648.30" y="422.9" font-size="7.5" font-family="'Liberation Sans',sans-serif" text-anchor="middle" fill="#333" stroke="#333" stroke-width="0.2" >6000</text>
<text x="529.1" y="435.4" font-size="9" font-family="'Liberation Sans',sans-serif" text-anchor="middle" fill="#333" stroke="#333" stroke-width="0.42">Raman Shift (cm<tspan font-size="5.4" dy="-3.4">-1</tspan><tspan dy="3.4">)</tspan></text>
<text transform="translate(400.5,325.4) rotate(-90)" font-size="9.35" font-family="'Liberation Sans',sans-serif" text-anchor="middle" fill="#333" stroke="#333" stroke-width="0.42">Intensity (a.u.)</text>
<text x="414.5" y="250.7" font-size="11.4" font-family="'Liberation Serif','Noto Serif CJK SC',serif" text-anchor="start" fill="#333" stroke="#333" stroke-width="0.35" >(b)</text>
<text x="411.2" y="263.9" font-size="8.6" font-family="'Liberation Sans',sans-serif" text-anchor="start" fill="#222" stroke="#222" stroke-width="0.3" >5:5</text>
<text x="411.2" y="312.3" font-size="8.6" font-family="'Liberation Sans',sans-serif" text-anchor="start" fill="#222" stroke="#222" stroke-width="0.3" >4:6</text>
<text x="411.2" y="337.3" font-size="8.6" font-family="'Liberation Sans',sans-serif" text-anchor="start" fill="#222" stroke="#222" stroke-width="0.3" >3:7</text>
<text x="411.2" y="364.1" font-size="8.6" font-family="'Liberation Sans',sans-serif" text-anchor="start" fill="#222" stroke="#222" stroke-width="0.3" >2:8</text>
<text x="411.2" y="392.5" font-size="8.6" font-family="'Liberation Sans',sans-serif" text-anchor="start" fill="#222" stroke="#222" stroke-width="0.3" >1:9</text>
<text x="484.7" y="276.6" font-size="6.0" font-family="'Liberation Sans',sans-serif" text-anchor="start" fill="#222" stroke="#222" stroke-width="0.15" >454 cm<tspan font-size="3.60" dy="-2.28">-1</tspan></text>
<text x="542.3" y="302.0" font-size="6.0" font-family="'Liberation Sans',sans-serif" text-anchor="start" fill="#222" stroke="#222" stroke-width="0.15" >2713 cm<tspan font-size="3.60" dy="-2.28">-1</tspan></text>
<text x="589.0" y="300.0" font-size="6.0" font-family="'Liberation Sans',sans-serif" text-anchor="start" fill="#222" stroke="#222" stroke-width="0.15" >3083 cm<tspan font-size="3.60" dy="-2.28">-1</tspan></text>
<line x1="516.00" y1="278.20" x2="510.21" y2="276.58" stroke="#111" stroke-width="0.55"/>
<polygon points="507.80,275.90 510.50,275.52 509.91,277.63" fill="#111"/>
<line x1="566.00" y1="304.40" x2="564.35" y2="304.08" stroke="#111" stroke-width="0.55"/>
<polygon points="561.90,303.60 564.56,303.00 564.14,305.16" fill="#111"/>
<line x1="578.10" y1="300.20" x2="584.20" y2="298.41" stroke="#111" stroke-width="0.55"/>
<polygon points="586.60,297.70 584.51,299.46 583.89,297.35" fill="#111"/>
<line x1="433.5" y1="293.8" x2="422.48" y2="291.43" stroke="#b0b0b0" stroke-width="0.6"/>
<line x1="433.5" y1="293.8" x2="440.15" y2="284.59" stroke="#b0b0b0" stroke-width="0.6"/>
<line x1="433.5" y1="293.8" x2="437.20" y2="302.73" stroke="#b0b0b0" stroke-width="0.6"/>
<line x1="433.5" y1="293.8" x2="434.55" y2="296.75" stroke="#b0b0b0" stroke-width="0.6"/>
<circle cx="434.55" cy="296.75" r="2.85" fill="url(#gCl2)"/>
<circle cx="422.48" cy="291.43" r="2.85" fill="url(#gCl2)"/>
<circle cx="440.15" cy="284.59" r="2.85" fill="url(#gCl2)"/>
<circle cx="437.20" cy="302.73" r="2.85" fill="url(#gCl2)"/>
<circle cx="433.5" cy="293.8" r="2.28" fill="url(#gGr)"/>
<line x1="462.00" y1="283.20" x2="458.11" y2="290.80" stroke="#999" stroke-width="0.7"/>
<line x1="458.11" y1="290.80" x2="463.90" y2="297.45" stroke="#999" stroke-width="0.7"/>
<line x1="463.90" y1="297.45" x2="471.79" y2="293.65" stroke="#999" stroke-width="0.7"/>
<line x1="471.79" y1="293.65" x2="469.69" y2="284.81" stroke="#999" stroke-width="0.7"/>
<line x1="469.69" y1="284.81" x2="462.00" y2="283.20" stroke="#999" stroke-width="0.7"/>
<line x1="458.11" y1="290.80" x2="452.69" y2="291.37" stroke="#aaa" stroke-width="0.6"/>
<circle cx="452.69" cy="291.37" r="1.09" fill="url(#gGr)"/>
<line x1="469.69" y1="284.81" x2="475.11" y2="282.06" stroke="#aaa" stroke-width="0.6"/>
<circle cx="475.11" cy="282.06" r="1.09" fill="url(#gGr)"/>
<line x1="469.69" y1="284.81" x2="472.45" y2="286.05" stroke="#aaa" stroke-width="0.6"/>
<circle cx="472.45" cy="286.05" r="1.09" fill="url(#gGr)"/>
<line x1="471.79" y1="293.65" x2="477.39" y2="295.17" stroke="#aaa" stroke-width="0.6"/>
<circle cx="477.39" cy="295.17" r="1.09" fill="url(#gGr)"/>
<line x1="471.79" y1="293.65" x2="472.64" y2="297.93" stroke="#aaa" stroke-width="0.6"/>
<circle cx="472.64" cy="297.93" r="1.09" fill="url(#gGr)"/>
<line x1="463.90" y1="297.45" x2="461.62" y2="301.63" stroke="#aaa" stroke-width="0.6"/>
<circle cx="461.62" cy="301.63" r="1.09" fill="url(#gGr)"/>
<line x1="463.90" y1="297.45" x2="465.61" y2="301.63" stroke="#aaa" stroke-width="0.6"/>
<circle cx="465.61" cy="301.63" r="1.09" fill="url(#gGr)"/>
<line x1="458.11" y1="290.80" x2="459.91" y2="294.12" stroke="#aaa" stroke-width="0.6"/>
<circle cx="459.91" cy="294.12" r="1.09" fill="url(#gGr)"/>
<circle cx="458.11" cy="290.80" r="2.56" fill="url(#gGr)"/>
<circle cx="463.90" cy="297.45" r="2.56" fill="url(#gGr)"/>
<circle cx="471.79" cy="293.65" r="2.56" fill="url(#gGr)"/>
<circle cx="469.69" cy="284.81" r="2.56" fill="url(#gGr)"/>
<circle cx="462.0" cy="283.2" r="2.38" fill="url(#gR)"/>
<text x="779" y="207" font-size="5" font-family="'DejaVu Sans',sans-serif" text-anchor="start" fill="#999" >↵</text>
</g></svg></div></body></html>
